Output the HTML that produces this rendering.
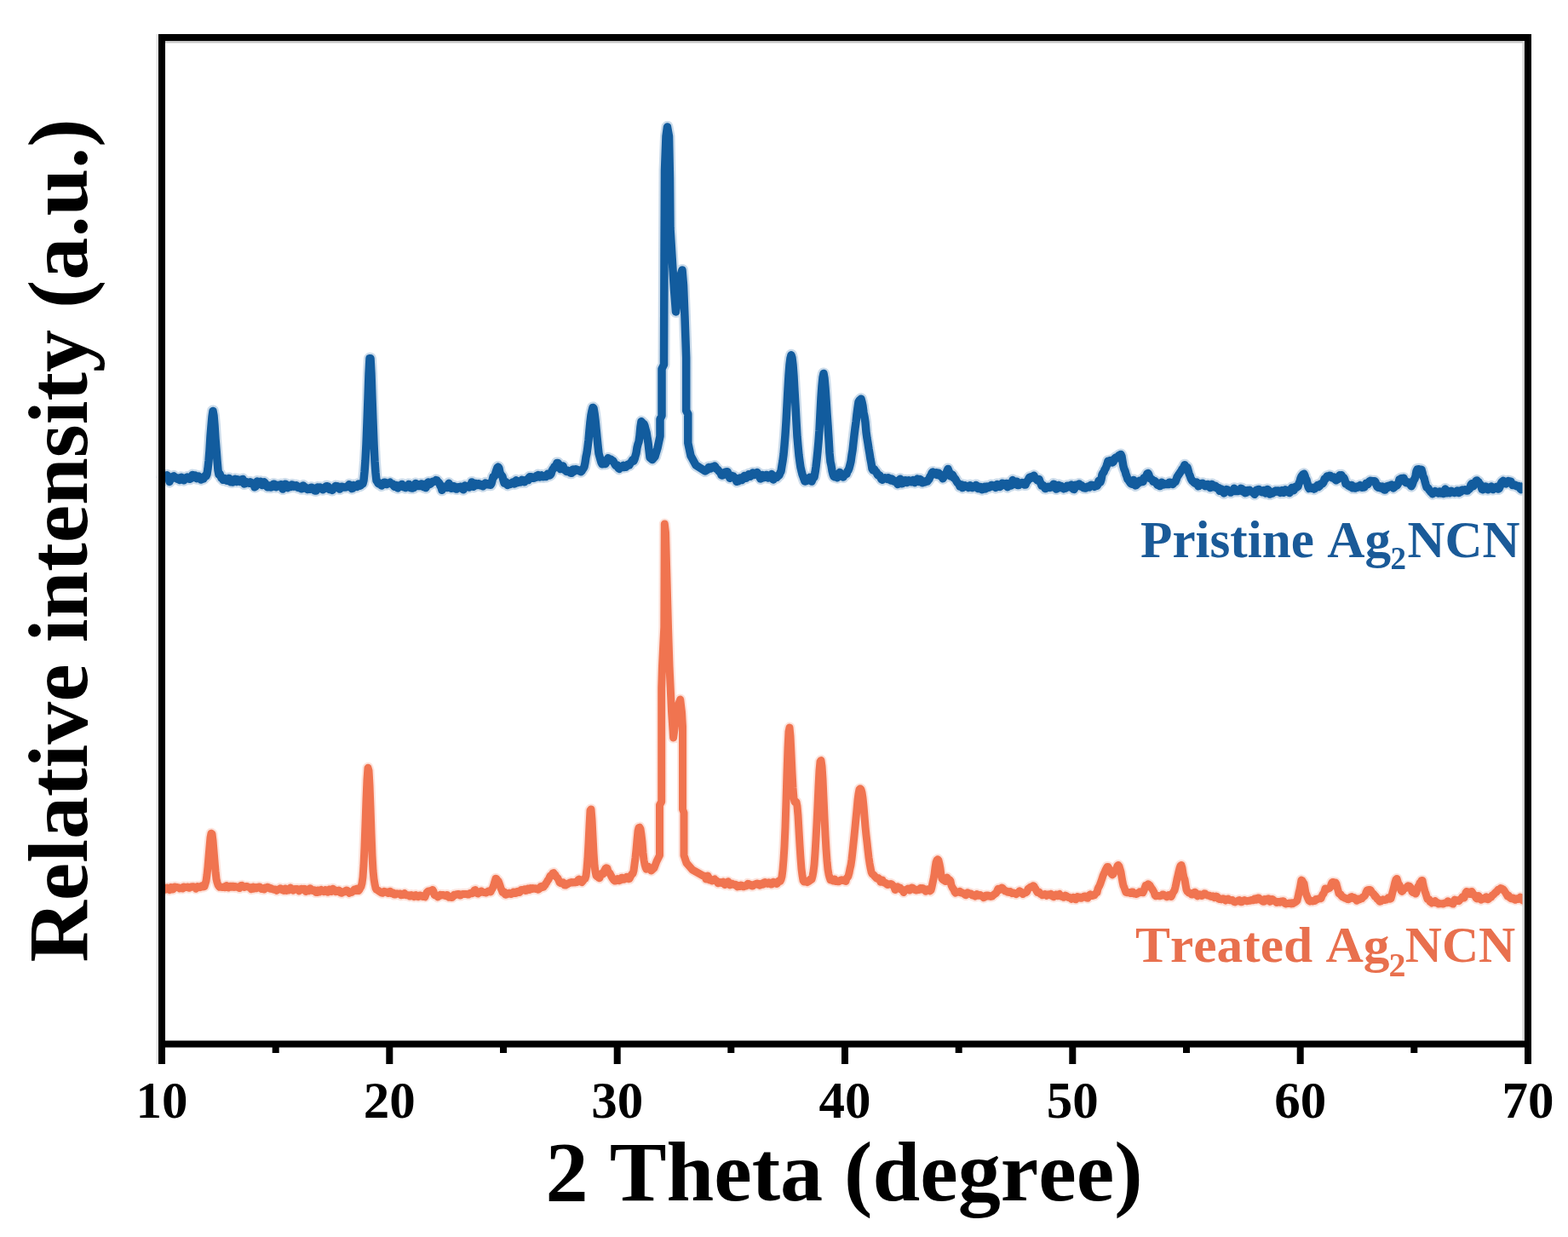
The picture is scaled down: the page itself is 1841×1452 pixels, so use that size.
<!DOCTYPE html>
<html><head><meta charset="utf-8"><title>XRD</title>
<style>
html,body{margin:0;padding:0;background:#fff;}
body{width:1841px;height:1452px;overflow:hidden;}
svg{display:block;}
text{font-family:"Liberation Serif","Times New Roman",serif;font-weight:bold;font-kerning:none;}
.tk{font-size:61px;fill:#000;}
.ax{font-size:100px;fill:#000;}

</style></head>
<body>
<svg width="1841" height="1452" viewBox="0 0 1841 1452">
<rect x="0" y="0" width="1841" height="1452" fill="#fff"/>
<polyline points="190.0,562.7 191.0,558.5 192.0,560.1 193.0,560.1 194.0,559.9 195.0,559.5 196.0,557.8 197.0,559.2 198.0,561.2 199.0,565.4 200.0,562.7 201.0,560.4 202.0,560.1 203.0,559.3 204.0,558.9 205.0,560.1 206.0,561.3 207.0,561.3 208.0,562.1 209.0,561.1 210.0,561.6 211.0,563.4 212.0,562.2 213.0,560.4 214.0,560.7 215.0,562.5 216.0,563.8 217.0,561.3 218.0,560.9 219.0,561.8 220.0,560.0 221.0,560.5 222.0,562.3 223.0,562.2 224.0,561.6 225.0,560.5 226.0,557.6 227.0,560.5 228.0,559.1 229.0,558.1 230.0,560.7 231.0,561.7 232.0,559.9 233.0,558.9 234.0,560.1 235.0,561.2 236.0,562.9 237.0,562.4 238.0,561.6 239.0,561.9 240.0,559.9 241.0,558.3 242.0,558.8 243.0,556.5 244.0,550.0 245.0,540.9 246.0,528.8 247.0,512.3 248.0,500.5 249.0,489.2 250.0,482.5 251.0,487.9 252.0,499.7 253.0,515.3 254.0,527.4 255.0,540.5 256.0,552.0 257.0,557.0 258.0,556.1 259.0,558.8 260.0,561.1 261.0,561.6 262.0,563.3 263.0,561.3 264.0,561.8 265.0,561.9 266.0,564.2 267.0,563.3 268.0,561.7 269.0,561.4 270.0,565.3 271.0,565.8 272.0,565.7 273.0,566.0 274.0,564.7 275.0,563.0 276.0,562.4 277.0,563.5 278.0,565.4 279.0,562.9 280.0,563.1 281.0,564.3 282.0,565.5 283.0,565.6 284.0,563.0 285.0,562.4 286.0,565.4 287.0,567.9 288.0,567.7 289.0,566.5 290.0,565.9 291.0,566.4 292.0,566.5 293.0,567.1 294.0,565.9 295.0,566.4 296.0,566.9 297.0,567.7 298.0,568.8 299.0,571.6 300.0,571.3 301.0,569.2 302.0,565.0 303.0,565.7 304.0,566.8 305.0,567.1 306.0,565.3 307.0,569.0 308.0,569.5 309.0,566.3 310.0,565.8 311.0,566.7 312.0,568.4 313.0,570.4 314.0,571.8 315.0,569.8 316.0,569.9 317.0,570.4 318.0,572.0 319.0,571.7 320.0,571.0 321.0,568.3 322.0,568.2 323.0,569.0 324.0,571.7 325.0,571.3 326.0,569.5 327.0,569.4 328.0,570.2 329.0,568.9 330.0,568.8 331.0,571.8 332.0,574.1 333.0,571.1 334.0,569.2 335.0,568.2 336.0,568.6 337.0,571.5 338.0,572.5 339.0,571.6 340.0,571.6 341.0,571.5 342.0,570.7 343.0,568.9 344.0,569.9 345.0,570.9 346.0,570.0 347.0,569.9 348.0,569.8 349.0,571.0 350.0,572.4 351.0,571.3 352.0,571.6 353.0,573.0 354.0,573.8 355.0,573.5 356.0,570.0 357.0,571.8 358.0,571.6 359.0,572.2 360.0,573.7 361.0,574.4 362.0,574.1 363.0,573.5 364.0,574.3 365.0,572.4 366.0,572.2 367.0,573.0 368.0,572.9 369.0,575.6 370.0,575.9 371.0,576.0 372.0,573.2 373.0,572.0 374.0,572.9 375.0,573.4 376.0,572.2 377.0,572.9 378.0,573.6 379.0,574.7 380.0,573.0 381.0,573.6 382.0,571.9 383.0,570.8 384.0,570.8 385.0,570.9 386.0,573.0 387.0,574.5 388.0,573.8 389.0,574.5 390.0,575.5 391.0,574.0 392.0,573.0 393.0,571.6 394.0,570.5 395.0,572.1 396.0,570.7 397.0,572.6 398.0,573.3 399.0,574.0 400.0,572.5 401.0,571.3 402.0,572.2 403.0,571.6 404.0,571.8 405.0,572.1 406.0,571.9 407.0,571.4 408.0,570.7 409.0,570.3 410.0,568.7 411.0,570.1 412.0,570.6 413.0,573.5 414.0,573.2 415.0,569.6 416.0,570.8 417.0,570.9 418.0,570.1 419.0,571.4 420.0,569.9 421.0,568.1 422.0,569.4 423.0,570.1 424.0,569.3 425.0,567.4 426.0,567.5 427.0,563.7 428.0,553.7 429.0,540.7 430.0,521.5 431.0,495.7 432.0,468.2 433.0,439.5 434.0,420.8 435.0,420.7 436.0,439.1 437.0,468.4 438.0,495.7 439.0,521.4 440.0,541.6 441.0,554.9 442.0,564.0 443.0,565.4 444.0,567.3 445.0,568.1 446.0,568.1 447.0,567.4 448.0,570.0 449.0,568.9 450.0,567.6 451.0,566.2 452.0,566.2 453.0,567.9 454.0,568.4 455.0,567.9 456.0,567.8 457.0,566.9 458.0,566.3 459.0,567.6 460.0,568.0 461.0,568.1 462.0,569.9 463.0,571.2 464.0,570.1 465.0,569.6 466.0,571.6 467.0,572.9 468.0,570.6 469.0,569.8 470.0,570.5 471.0,571.0 472.0,568.4 473.0,570.6 474.0,571.9 475.0,570.6 476.0,572.5 477.0,571.8 478.0,570.2 479.0,570.0 480.0,568.4 481.0,570.1 482.0,572.8 483.0,571.4 484.0,573.1 485.0,572.2 486.0,572.4 487.0,570.4 488.0,567.5 489.0,569.2 490.0,570.5 491.0,568.8 492.0,568.7 493.0,570.6 494.0,569.5 495.0,567.9 496.0,569.5 497.0,571.5 498.0,570.8 499.0,572.2 500.0,572.6 501.0,569.7 502.0,566.7 503.0,565.9 504.0,567.4 505.0,568.3 506.0,567.4 507.0,566.5 508.0,565.3 509.0,565.4 510.0,564.8 511.0,564.6 512.0,563.6 513.0,564.0 514.0,565.8 515.0,566.2 516.0,567.6 517.0,570.3 518.0,571.9 519.0,575.3 520.0,573.5 521.0,571.2 522.0,572.4 523.0,572.1 524.0,571.3 525.0,572.5 526.0,569.6 527.0,567.3 528.0,571.1 529.0,572.0 530.0,573.3 531.0,571.0 532.0,570.6 533.0,573.0 534.0,571.1 535.0,572.3 536.0,574.1 537.0,572.7 538.0,571.9 539.0,572.5 540.0,572.7 541.0,571.2 542.0,572.3 543.0,573.7 544.0,574.8 545.0,571.4 546.0,569.9 547.0,571.4 548.0,570.7 549.0,571.0 550.0,571.4 551.0,571.9 552.0,569.9 553.0,568.5 554.0,565.9 555.0,568.2 556.0,571.3 557.0,569.1 558.0,567.6 559.0,567.6 560.0,569.6 561.0,569.1 562.0,567.7 563.0,569.4 564.0,569.8 565.0,569.5 566.0,568.8 567.0,570.8 568.0,569.6 569.0,567.9 570.0,567.0 571.0,567.6 572.0,568.7 573.0,568.1 574.0,569.1 575.0,569.1 576.0,569.2 577.0,567.6 578.0,563.8 579.0,559.8 580.0,559.8 581.0,558.2 582.0,554.5 583.0,551.6 584.0,548.8 585.0,548.1 586.0,549.9 587.0,554.9 588.0,557.0 589.0,558.0 590.0,559.6 591.0,563.5 592.0,567.1 593.0,566.6 594.0,565.8 595.0,568.5 596.0,569.4 597.0,568.7 598.0,568.3 599.0,568.4 600.0,567.8 601.0,567.0 602.0,565.9 603.0,567.8 604.0,567.9 605.0,567.7 606.0,563.8 607.0,565.8 608.0,566.6 609.0,565.0 610.0,565.5 611.0,566.0 612.0,565.1 613.0,563.4 614.0,563.8 615.0,565.6 616.0,565.8 617.0,564.0 618.0,563.2 619.0,563.6 620.0,563.6 621.0,560.7 622.0,559.8 623.0,560.9 624.0,559.9 625.0,560.2 626.0,561.3 627.0,561.3 628.0,559.9 629.0,560.5 630.0,558.6 631.0,559.6 632.0,557.6 633.0,557.8 634.0,560.0 635.0,559.1 636.0,558.0 637.0,558.6 638.0,559.7 639.0,559.1 640.0,559.2 641.0,559.6 642.0,557.3 643.0,556.3 644.0,556.5 645.0,558.0 646.0,557.6 647.0,556.1 648.0,552.8 649.0,550.9 650.0,550.0 651.0,547.7 652.0,547.3 653.0,546.0 654.0,543.4 655.0,543.4 656.0,544.9 657.0,548.7 658.0,550.6 659.0,548.5 660.0,547.6 661.0,546.9 662.0,550.4 663.0,551.8 664.0,551.8 665.0,553.4 666.0,552.0 667.0,553.2 668.0,553.8 669.0,553.0 670.0,555.3 671.0,555.2 672.0,551.5 673.0,551.0 674.0,553.3 675.0,552.5 676.0,550.7 677.0,551.2 678.0,551.6 679.0,551.7 680.0,552.6 681.0,552.6 682.0,553.7 683.0,552.8 684.0,550.8 685.0,549.8 686.0,547.9 687.0,543.1 688.0,536.4 689.0,531.9 690.0,524.7 691.0,516.5 692.0,505.2 693.0,495.0 694.0,487.1 695.0,482.3 696.0,478.4 697.0,479.3 698.0,485.2 699.0,493.0 700.0,503.1 701.0,513.1 702.0,523.3 703.0,532.3 704.0,535.9 705.0,539.6 706.0,542.8 707.0,544.7 708.0,543.5 709.0,543.7 710.0,544.5 711.0,544.4 712.0,542.1 713.0,539.3 714.0,537.7 715.0,538.8 716.0,539.9 717.0,539.1 718.0,539.7 719.0,541.0 720.0,541.2 721.0,543.1 722.0,545.1 723.0,546.6 724.0,546.5 725.0,546.0 726.0,549.3 727.0,550.4 728.0,548.2 729.0,548.1 730.0,548.5 731.0,548.1 732.0,546.3 733.0,548.4 734.0,547.5 735.0,548.1 736.0,546.8 737.0,545.3 738.0,545.6 739.0,545.9 740.0,543.6 741.0,542.7 742.0,541.2 743.0,539.5 744.0,541.2 745.0,538.9 746.0,535.3 747.0,531.9 748.0,525.4 749.0,521.4 750.0,518.7 751.0,511.5 752.0,501.0 753.0,494.8 754.0,495.8 755.0,498.1 756.0,497.6 757.0,500.0 758.0,504.2 759.0,507.6 760.0,513.7 761.0,519.8 763.0,537.0 766.0,539.5 769.0,536.0 772.0,526.0 775.0,512.0 775.0,492.0 777.0,488.0 777.0,433.0 779.5,428.0 780.0,300.0 780.5,200.0 782.0,160.0 783.5,149.0 785.5,160.0 786.5,210.0 787.0,268.0 789.5,309.0 791.5,340.0 793.5,366.0 796.0,347.0 798.5,325.0 801.0,317.0 802.5,335.0 804.0,372.0 805.7,420.0 805.7,482.0 807.8,486.0 807.8,520.0 811.0,535.0 817.0,546.0 828.0,553.0 830.0,551.8 831.0,551.0 832.0,548.5 833.0,548.4 834.0,550.1 835.0,549.1 836.0,548.0 837.0,547.7 838.0,548.2 839.0,547.1 840.0,548.1 841.0,550.3 842.0,550.7 843.0,551.6 844.0,553.1 845.0,553.7 846.0,554.9 847.0,557.6 848.0,558.0 849.0,557.7 850.0,556.1 851.0,554.7 852.0,554.0 853.0,554.6 854.0,553.7 855.0,556.0 856.0,559.4 857.0,561.3 858.0,560.2 859.0,558.3 860.0,559.0 861.0,558.9 862.0,560.5 863.0,560.8 864.0,562.9 865.0,565.3 866.0,564.4 867.0,564.6 868.0,562.0 869.0,561.0 870.0,563.3 871.0,563.6 872.0,560.7 873.0,559.8 874.0,558.4 875.0,559.8 876.0,561.3 877.0,559.9 878.0,557.9 879.0,556.7 880.0,558.4 881.0,559.1 882.0,558.1 883.0,556.2 884.0,554.9 885.0,557.5 886.0,556.4 887.0,556.2 888.0,556.6 889.0,554.5 890.0,556.8 891.0,558.6 892.0,560.3 893.0,562.0 894.0,560.4 895.0,557.5 896.0,558.9 897.0,560.5 898.0,560.0 899.0,557.7 900.0,557.5 901.0,560.4 902.0,560.9 903.0,559.4 904.0,558.4 905.0,560.4 906.0,556.6 907.0,559.3 908.0,563.0 909.0,561.1 910.0,559.9 911.0,559.1 912.0,560.6 913.0,558.4 914.0,558.6 915.0,557.5 916.0,554.9 917.0,553.1 918.0,546.8 919.0,540.9 920.0,533.5 921.0,522.7 922.0,510.4 923.0,495.0 924.0,476.0 925.0,457.4 926.0,440.9 927.0,428.1 928.0,420.4 929.0,416.8 930.0,420.2 931.0,428.6 932.0,441.8 933.0,459.7 934.0,476.2 935.0,495.1 936.0,512.5 937.0,523.8 938.0,534.5 939.0,542.0 940.0,548.7 941.0,552.8 942.0,556.9 943.0,559.5 944.0,562.4 945.0,565.0 946.0,564.6 947.0,564.5 948.0,563.6 949.0,562.7 950.0,561.2 951.0,560.2 952.0,562.9 953.0,565.1 954.0,562.9 955.0,560.7 956.0,560.2 957.0,554.7 958.0,547.9 959.0,539.4 960.0,529.5 961.0,518.4 962.0,505.3 963.0,485.8 964.0,466.9 965.0,452.9 966.0,443.1 967.0,438.5 968.0,444.1 969.0,455.3 970.0,469.4 971.0,485.3 972.0,499.4 973.0,514.8 974.0,531.9 975.0,542.0 976.0,546.4 977.0,552.6 978.0,556.7 979.0,559.2 980.0,559.7 981.0,559.4 982.0,560.3 983.0,560.6 984.0,559.4 985.0,556.1 986.0,554.5 987.0,556.5 988.0,556.9 989.0,559.1 990.0,560.0 991.0,558.6 992.0,556.9 993.0,556.8 994.0,556.3 995.0,553.1 996.0,552.2 997.0,549.5 998.0,545.7 999.0,541.6 1000.0,534.4 1001.0,528.5 1002.0,519.5 1003.0,510.7 1004.0,502.6 1005.0,495.3 1006.0,486.1 1007.0,478.6 1008.0,471.9 1009.0,470.2 1010.0,469.2 1011.0,468.3 1012.0,471.9 1013.0,476.8 1014.0,484.4 1015.0,489.2 1016.0,495.8 1017.0,507.2 1018.0,514.3 1019.0,520.2 1020.0,526.8 1021.0,532.5 1022.0,538.9 1023.0,543.9 1024.0,550.2 1025.0,551.9 1026.0,550.4 1027.0,551.6 1028.0,553.7 1029.0,554.0 1030.0,556.7 1031.0,557.9 1032.0,557.5 1033.0,558.3 1034.0,560.7 1035.0,562.8 1036.0,563.1 1037.0,561.9 1038.0,562.0 1039.0,561.0 1040.0,561.6 1041.0,561.3 1042.0,562.5 1043.0,560.9 1044.0,561.2 1045.0,563.3 1046.0,563.9 1047.0,562.1 1048.0,563.0 1049.0,564.8 1050.0,565.0 1051.0,564.3 1052.0,565.3 1053.0,566.3 1054.0,568.4 1055.0,567.0 1056.0,563.4 1057.0,562.3 1058.0,565.7 1059.0,567.8 1060.0,567.1 1061.0,566.9 1062.0,564.8 1063.0,563.8 1064.0,566.1 1065.0,566.4 1066.0,565.8 1067.0,563.8 1068.0,564.6 1069.0,564.8 1070.0,565.8 1071.0,564.4 1072.0,563.6 1073.0,564.4 1074.0,566.4 1075.0,565.1 1076.0,563.1 1077.0,562.3 1078.0,563.4 1079.0,565.5 1080.0,562.5 1081.0,563.1 1082.0,565.9 1083.0,566.7 1084.0,565.4 1085.0,565.8 1086.0,566.0 1087.0,565.4 1088.0,564.4 1089.0,564.8 1090.0,563.3 1091.0,562.3 1092.0,559.1 1093.0,558.7 1094.0,555.4 1095.0,554.1 1096.0,555.6 1097.0,554.8 1098.0,555.1 1099.0,554.9 1100.0,557.5 1101.0,556.4 1102.0,555.2 1103.0,557.4 1104.0,558.7 1105.0,557.6 1106.0,559.5 1107.0,561.7 1108.0,560.0 1109.0,557.4 1110.0,556.3 1111.0,556.2 1112.0,552.6 1113.0,550.4 1114.0,553.0 1115.0,555.2 1116.0,559.0 1117.0,558.4 1118.0,557.0 1119.0,558.3 1120.0,561.3 1121.0,561.6 1122.0,562.8 1123.0,564.8 1124.0,566.3 1125.0,567.3 1126.0,568.6 1127.0,571.1 1128.0,571.1 1129.0,568.9 1130.0,572.5 1131.0,571.8 1132.0,571.5 1133.0,569.8 1134.0,570.5 1135.0,570.9 1136.0,571.2 1137.0,572.3 1138.0,571.6 1139.0,569.7 1140.0,570.7 1141.0,572.5 1142.0,572.4 1143.0,571.1 1144.0,570.9 1145.0,570.7 1146.0,569.4 1147.0,570.2 1148.0,573.4 1149.0,572.3 1150.0,571.6 1151.0,571.5 1152.0,574.1 1153.0,574.7 1154.0,572.3 1155.0,571.7 1156.0,571.4 1157.0,573.9 1158.0,572.9 1159.0,570.9 1160.0,572.5 1161.0,572.2 1162.0,571.7 1163.0,571.0 1164.0,569.5 1165.0,569.7 1166.0,571.0 1167.0,570.0 1168.0,569.7 1169.0,572.4 1170.0,570.3 1171.0,568.6 1172.0,568.8 1173.0,570.8 1174.0,571.4 1175.0,570.7 1176.0,570.0 1177.0,567.3 1178.0,567.6 1179.0,568.2 1180.0,568.9 1181.0,568.5 1182.0,567.5 1183.0,571.7 1184.0,568.9 1185.0,568.9 1186.0,570.0 1187.0,569.9 1188.0,567.4 1189.0,563.6 1190.0,565.6 1191.0,568.4 1192.0,566.9 1193.0,565.4 1194.0,565.2 1195.0,569.5 1196.0,569.5 1197.0,567.6 1198.0,568.0 1199.0,567.9 1200.0,566.8 1201.0,567.6 1202.0,568.6 1203.0,569.1 1204.0,569.1 1205.0,566.6 1206.0,564.7 1207.0,564.1 1208.0,561.5 1209.0,560.1 1210.0,561.4 1211.0,559.7 1212.0,559.4 1213.0,559.5 1214.0,558.3 1215.0,560.6 1216.0,561.9 1217.0,562.5 1218.0,563.8 1219.0,563.0 1220.0,562.6 1221.0,565.6 1222.0,567.4 1223.0,570.2 1224.0,570.4 1225.0,569.7 1226.0,571.1 1227.0,573.4 1228.0,573.5 1229.0,572.5 1230.0,572.0 1231.0,571.2 1232.0,571.5 1233.0,572.4 1234.0,572.0 1235.0,571.6 1236.0,569.6 1237.0,568.2 1238.0,568.5 1239.0,571.1 1240.0,574.1 1241.0,573.7 1242.0,570.2 1243.0,569.5 1244.0,572.4 1245.0,572.1 1246.0,570.5 1247.0,572.6 1248.0,573.0 1249.0,573.8 1250.0,573.2 1251.0,573.2 1252.0,572.0 1253.0,570.2 1254.0,570.4 1255.0,570.8 1256.0,571.8 1257.0,569.6 1258.0,569.0 1259.0,572.1 1260.0,574.0 1261.0,574.4 1262.0,572.8 1263.0,569.2 1264.0,569.2 1265.0,570.0 1266.0,569.8 1267.0,568.0 1268.0,570.1 1269.0,571.0 1270.0,569.8 1271.0,571.2 1272.0,572.7 1273.0,572.0 1274.0,572.9 1275.0,573.0 1276.0,572.0 1277.0,571.2 1278.0,570.8 1279.0,571.9 1280.0,570.0 1281.0,569.4 1282.0,570.5 1283.0,569.5 1284.0,570.6 1285.0,571.4 1286.0,570.1 1287.0,569.6 1288.0,570.3 1289.0,568.6 1290.0,564.5 1291.0,563.8 1292.0,565.9 1293.0,562.8 1294.0,557.1 1295.0,555.2 1296.0,554.3 1297.0,551.4 1298.0,549.9 1299.0,547.5 1300.0,544.6 1301.0,541.2 1302.0,542.2 1303.0,542.9 1304.0,540.4 1305.0,542.2 1306.0,542.9 1307.0,542.3 1308.0,540.4 1309.0,537.9 1310.0,537.2 1311.0,537.9 1312.0,537.0 1313.0,535.6 1314.0,534.4 1315.0,533.9 1316.0,533.5 1317.0,535.7 1318.0,541.7 1319.0,547.4 1320.0,550.8 1321.0,553.0 1322.0,556.7 1323.0,559.3 1324.0,562.6 1325.0,563.4 1326.0,565.2 1327.0,566.7 1328.0,567.6 1329.0,568.2 1330.0,564.8 1331.0,563.5 1332.0,567.7 1333.0,569.9 1334.0,569.5 1335.0,568.0 1336.0,567.6 1337.0,566.4 1338.0,564.3 1339.0,564.8 1340.0,565.7 1341.0,565.1 1342.0,565.5 1343.0,561.1 1344.0,560.6 1345.0,561.3 1346.0,558.3 1347.0,556.0 1348.0,555.5 1349.0,557.7 1350.0,561.4 1351.0,562.0 1352.0,562.4 1353.0,563.0 1354.0,565.3 1355.0,565.4 1356.0,564.7 1357.0,565.8 1358.0,567.8 1359.0,569.2 1360.0,568.4 1361.0,569.4 1362.0,570.6 1363.0,567.1 1364.0,566.2 1365.0,569.0 1366.0,569.0 1367.0,568.2 1368.0,568.1 1369.0,567.9 1370.0,568.4 1371.0,568.1 1372.0,568.4 1373.0,566.3 1374.0,566.2 1375.0,567.4 1376.0,567.4 1377.0,568.2 1378.0,567.1 1379.0,565.8 1380.0,565.5 1381.0,563.2 1382.0,560.1 1383.0,558.5 1384.0,557.1 1385.0,555.5 1386.0,554.1 1387.0,552.6 1388.0,550.6 1389.0,549.9 1390.0,547.7 1391.0,545.8 1392.0,548.0 1393.0,548.8 1394.0,548.7 1395.0,552.0 1396.0,555.8 1397.0,558.1 1398.0,561.1 1399.0,563.1 1400.0,564.6 1401.0,565.1 1402.0,566.5 1403.0,567.1 1404.0,567.7 1405.0,566.1 1406.0,568.6 1407.0,570.8 1408.0,570.1 1409.0,569.3 1410.0,569.2 1411.0,567.5 1412.0,567.3 1413.0,568.4 1414.0,569.7 1415.0,570.7 1416.0,569.7 1417.0,570.6 1418.0,568.4 1419.0,568.9 1420.0,571.1 1421.0,572.6 1422.0,570.1 1423.0,568.5 1424.0,571.5 1425.0,571.8 1426.0,570.3 1427.0,570.3 1428.0,571.4 1429.0,573.2 1430.0,573.6 1431.0,572.8 1432.0,576.3 1433.0,574.9 1434.0,574.0 1435.0,575.3 1436.0,576.3 1437.0,578.9 1438.0,577.7 1439.0,575.2 1440.0,574.6 1441.0,574.8 1442.0,575.6 1443.0,576.6 1444.0,576.3 1445.0,578.1 1446.0,576.7 1447.0,576.4 1448.0,576.5 1449.0,573.3 1450.0,574.2 1451.0,576.6 1452.0,576.5 1453.0,576.4 1454.0,576.5 1455.0,575.5 1456.0,575.1 1457.0,573.4 1458.0,573.6 1459.0,576.8 1460.0,575.3 1461.0,575.6 1462.0,578.6 1463.0,578.4 1464.0,575.9 1465.0,575.4 1466.0,575.7 1467.0,575.3 1468.0,576.9 1469.0,577.1 1470.0,577.2 1471.0,578.1 1472.0,578.9 1473.0,580.3 1474.0,578.9 1475.0,575.3 1476.0,576.6 1477.0,574.8 1478.0,574.4 1479.0,576.7 1480.0,575.9 1481.0,576.5 1482.0,577.8 1483.0,575.9 1484.0,575.4 1485.0,577.4 1486.0,579.0 1487.0,577.5 1488.0,574.6 1489.0,575.1 1490.0,577.3 1491.0,580.1 1492.0,579.6 1493.0,579.2 1494.0,579.0 1495.0,577.4 1496.0,577.8 1497.0,577.5 1498.0,575.9 1499.0,576.8 1500.0,577.2 1501.0,575.9 1502.0,577.6 1503.0,578.4 1504.0,577.8 1505.0,575.6 1506.0,576.4 1507.0,578.3 1508.0,577.1 1509.0,574.8 1510.0,576.0 1511.0,577.3 1512.0,575.8 1513.0,576.6 1514.0,578.6 1515.0,575.7 1516.0,573.7 1517.0,572.4 1518.0,573.3 1519.0,575.7 1520.0,573.7 1521.0,571.3 1522.0,571.0 1523.0,571.8 1524.0,570.9 1525.0,567.5 1526.0,565.4 1527.0,561.6 1528.0,559.3 1529.0,557.9 1530.0,556.8 1531.0,556.2 1532.0,558.5 1533.0,561.7 1534.0,563.3 1535.0,567.6 1536.0,571.3 1537.0,573.3 1538.0,573.0 1539.0,572.9 1540.0,573.2 1541.0,572.4 1542.0,573.0 1543.0,574.0 1544.0,573.4 1545.0,571.5 1546.0,570.7 1547.0,569.5 1548.0,571.6 1549.0,570.8 1550.0,569.7 1551.0,567.6 1552.0,567.4 1553.0,567.6 1554.0,566.0 1555.0,562.5 1556.0,562.7 1557.0,560.9 1558.0,559.2 1559.0,559.7 1560.0,558.9 1561.0,558.3 1562.0,558.5 1563.0,560.1 1564.0,560.9 1565.0,560.7 1566.0,560.2 1567.0,561.2 1568.0,563.1 1569.0,563.8 1570.0,562.4 1571.0,562.4 1572.0,559.7 1573.0,557.7 1574.0,558.5 1575.0,557.7 1576.0,559.7 1577.0,561.5 1578.0,561.2 1579.0,563.6 1580.0,568.0 1581.0,567.7 1582.0,568.5 1583.0,570.2 1584.0,570.3 1585.0,571.0 1586.0,571.0 1587.0,569.5 1588.0,572.8 1589.0,571.3 1590.0,571.0 1591.0,573.1 1592.0,572.6 1593.0,571.2 1594.0,572.0 1595.0,570.9 1596.0,570.5 1597.0,569.7 1598.0,570.7 1599.0,572.3 1600.0,572.1 1601.0,572.0 1602.0,571.8 1603.0,569.5 1604.0,567.3 1605.0,567.5 1606.0,568.6 1607.0,566.4 1608.0,565.0 1609.0,564.3 1610.0,564.5 1611.0,564.9 1612.0,564.7 1613.0,564.8 1614.0,564.7 1615.0,566.0 1616.0,569.0 1617.0,571.2 1618.0,572.0 1619.0,571.2 1620.0,570.8 1621.0,572.9 1622.0,572.8 1623.0,571.1 1624.0,573.4 1625.0,574.8 1626.0,575.0 1627.0,571.4 1628.0,570.9 1629.0,572.6 1630.0,570.3 1631.0,570.4 1632.0,570.4 1633.0,569.7 1634.0,569.0 1635.0,571.1 1636.0,572.9 1637.0,572.1 1638.0,570.6 1639.0,569.4 1640.0,570.1 1641.0,568.7 1642.0,566.6 1643.0,563.0 1644.0,562.9 1645.0,561.6 1646.0,562.6 1647.0,562.4 1648.0,561.2 1649.0,563.5 1650.0,566.0 1651.0,566.6 1652.0,566.8 1653.0,565.9 1654.0,566.1 1655.0,566.8 1656.0,569.2 1657.0,570.7 1658.0,569.1 1659.0,566.2 1660.0,563.3 1661.0,562.3 1662.0,558.7 1663.0,553.4 1664.0,551.0 1665.0,550.9 1666.0,550.7 1667.0,553.0 1668.0,551.9 1669.0,551.3 1670.0,554.8 1671.0,559.6 1672.0,560.8 1673.0,564.9 1674.0,568.6 1675.0,571.9 1676.0,572.8 1677.0,573.1 1678.0,575.1 1679.0,576.2 1680.0,577.5 1681.0,577.9 1682.0,579.7 1683.0,578.1 1684.0,577.6 1685.0,576.7 1686.0,577.4 1687.0,577.8 1688.0,578.4 1689.0,578.9 1690.0,577.1 1691.0,577.0 1692.0,579.1 1693.0,577.7 1694.0,577.3 1695.0,579.5 1696.0,578.1 1697.0,574.0 1698.0,576.1 1699.0,578.7 1700.0,578.6 1701.0,577.6 1702.0,578.7 1703.0,576.5 1704.0,576.3 1705.0,576.9 1706.0,577.2 1707.0,578.3 1708.0,578.4 1709.0,577.6 1710.0,578.1 1711.0,575.9 1712.0,576.4 1713.0,578.5 1714.0,577.5 1715.0,577.3 1716.0,575.6 1717.0,575.1 1718.0,575.4 1719.0,575.4 1720.0,574.8 1721.0,575.1 1722.0,576.1 1723.0,576.1 1724.0,574.5 1725.0,574.1 1726.0,572.9 1727.0,569.0 1728.0,567.8 1729.0,570.9 1730.0,570.5 1731.0,567.9 1732.0,566.6 1733.0,564.4 1734.0,564.0 1735.0,565.7 1736.0,565.7 1737.0,568.2 1738.0,568.4 1739.0,570.7 1740.0,574.3 1741.0,574.6 1742.0,572.7 1743.0,573.0 1744.0,571.1 1745.0,571.4 1746.0,573.6 1747.0,574.7 1748.0,573.0 1749.0,573.4 1750.0,572.7 1751.0,571.0 1752.0,572.6 1753.0,574.6 1754.0,573.2 1755.0,573.3 1756.0,573.0 1757.0,571.5 1758.0,573.2 1759.0,574.0 1760.0,573.5 1761.0,571.6 1762.0,568.2 1763.0,566.3 1764.0,565.2 1765.0,564.4 1766.0,564.9 1767.0,567.4 1768.0,567.8 1769.0,565.8 1770.0,566.1 1771.0,564.7 1772.0,565.3 1773.0,565.1 1774.0,565.4 1775.0,568.2 1776.0,569.5 1777.0,569.3 1778.0,569.2 1779.0,569.3 1780.0,570.4 1781.0,570.8 1782.0,571.2 1783.0,570.4 1784.0,572.0 1785.0,573.5 1786.0,574.6 1787.0,574.2 1788.0,572.5 1789.0,570.3 1790.0,569.0" fill="none" stroke="#125c9e" stroke-opacity="0.22" stroke-width="14" stroke-linejoin="round" stroke-linecap="butt"/>
<polyline points="190.0,1041.8 191.0,1041.3 192.0,1042.4 193.0,1043.6 194.0,1044.2 195.0,1043.2 196.0,1042.1 197.0,1042.2 198.0,1043.8 199.0,1044.7 200.0,1043.2 201.0,1041.4 202.0,1042.0 203.0,1044.0 204.0,1042.9 205.0,1041.1 206.0,1041.7 207.0,1041.3 208.0,1041.5 209.0,1041.8 210.0,1042.0 211.0,1042.9 212.0,1042.5 213.0,1042.1 214.0,1043.0 215.0,1042.9 216.0,1041.1 217.0,1041.4 218.0,1041.4 219.0,1041.6 220.0,1041.1 221.0,1042.0 222.0,1042.3 223.0,1041.7 224.0,1041.1 225.0,1041.2 226.0,1040.7 227.0,1040.7 228.0,1041.6 229.0,1041.6 230.0,1043.1 231.0,1042.5 232.0,1040.5 233.0,1041.3 234.0,1041.0 235.0,1041.6 236.0,1041.2 237.0,1039.7 238.0,1040.5 239.0,1040.9 240.0,1040.5 241.0,1037.4 242.0,1034.2 243.0,1026.9 244.0,1017.4 245.0,1005.6 246.0,994.1 247.0,983.2 248.0,978.2 249.0,978.7 250.0,986.7 251.0,998.8 252.0,1010.8 253.0,1022.5 254.0,1031.7 255.0,1035.9 256.0,1038.8 257.0,1040.4 258.0,1041.3 259.0,1041.0 260.0,1041.2 261.0,1041.6 262.0,1041.4 263.0,1041.0 264.0,1041.7 265.0,1040.2 266.0,1039.6 267.0,1040.3 268.0,1042.0 269.0,1041.2 270.0,1040.2 271.0,1040.3 272.0,1041.3 273.0,1040.3 274.0,1040.2 275.0,1041.4 276.0,1040.5 277.0,1040.9 278.0,1041.3 279.0,1041.1 280.0,1041.8 281.0,1042.6 282.0,1041.0 283.0,1039.5 284.0,1039.3 285.0,1040.6 286.0,1041.1 287.0,1041.4 288.0,1040.9 289.0,1040.6 290.0,1040.5 291.0,1040.9 292.0,1041.5 293.0,1041.4 294.0,1042.3 295.0,1043.8 296.0,1042.4 297.0,1041.1 298.0,1043.2 299.0,1042.6 300.0,1041.5 301.0,1042.7 302.0,1042.2 303.0,1041.4 304.0,1041.1 305.0,1041.1 306.0,1042.4 307.0,1043.3 308.0,1042.6 309.0,1043.4 310.0,1044.1 311.0,1042.1 312.0,1042.4 313.0,1042.1 314.0,1041.3 315.0,1041.4 316.0,1042.6 317.0,1043.1 318.0,1042.5 319.0,1043.1 320.0,1043.8 321.0,1043.8 322.0,1044.2 323.0,1044.0 324.0,1044.4 325.0,1045.3 326.0,1044.5 327.0,1043.9 328.0,1043.8 329.0,1042.7 330.0,1043.1 331.0,1044.4 332.0,1044.9 333.0,1045.3 334.0,1043.7 335.0,1042.9 336.0,1045.5 337.0,1045.1 338.0,1043.6 339.0,1044.9 340.0,1043.8 341.0,1042.1 342.0,1042.9 343.0,1044.0 344.0,1045.2 345.0,1043.8 346.0,1043.6 347.0,1043.8 348.0,1043.6 349.0,1043.4 350.0,1044.7 351.0,1045.8 352.0,1045.2 353.0,1043.5 354.0,1043.2 355.0,1044.1 356.0,1043.8 357.0,1043.3 358.0,1043.5 359.0,1046.4 360.0,1045.9 361.0,1044.4 362.0,1045.8 363.0,1045.7 364.0,1042.8 365.0,1043.5 366.0,1044.6 367.0,1045.4 368.0,1045.0 369.0,1044.7 370.0,1045.5 371.0,1047.5 372.0,1047.6 373.0,1045.0 374.0,1044.9 375.0,1047.1 376.0,1044.9 377.0,1044.4 378.0,1045.2 379.0,1046.1 380.0,1046.6 381.0,1045.7 382.0,1044.8 383.0,1045.7 384.0,1046.4 385.0,1047.3 386.0,1045.6 387.0,1043.9 388.0,1044.5 389.0,1046.4 390.0,1044.8 391.0,1043.2 392.0,1044.4 393.0,1045.8 394.0,1046.5 395.0,1045.3 396.0,1046.3 397.0,1046.5 398.0,1045.2 399.0,1045.9 400.0,1048.0 401.0,1048.3 402.0,1047.3 403.0,1046.8 404.0,1047.0 405.0,1046.0 406.0,1045.4 407.0,1045.0 408.0,1045.5 409.0,1046.6 410.0,1048.4 411.0,1046.9 412.0,1047.3 413.0,1047.4 414.0,1046.3 415.0,1046.0 416.0,1043.9 417.0,1045.2 418.0,1045.6 419.0,1043.0 420.0,1043.7 421.0,1045.6 422.0,1044.3 423.0,1042.3 424.0,1040.7 425.0,1036.8 426.0,1029.7 427.0,1015.6 428.0,993.9 429.0,966.6 430.0,938.4 431.0,914.8 432.0,901.3 433.0,904.5 434.0,922.1 435.0,948.3 436.0,977.9 437.0,1004.0 438.0,1021.7 439.0,1031.8 440.0,1037.8 441.0,1042.4 442.0,1044.1 443.0,1044.7 444.0,1045.2 445.0,1046.1 446.0,1046.7 447.0,1047.4 448.0,1047.9 449.0,1048.2 450.0,1047.5 451.0,1046.4 452.0,1046.7 453.0,1047.2 454.0,1047.1 455.0,1048.1 456.0,1048.5 457.0,1046.7 458.0,1046.2 459.0,1048.6 460.0,1048.8 461.0,1048.6 462.0,1048.0 463.0,1050.1 464.0,1050.1 465.0,1049.0 466.0,1048.8 467.0,1049.3 468.0,1049.3 469.0,1049.0 470.0,1049.1 471.0,1050.8 472.0,1050.5 473.0,1050.4 474.0,1049.8 475.0,1048.6 476.0,1050.4 477.0,1050.7 478.0,1050.8 479.0,1050.9 480.0,1050.8 481.0,1051.9 482.0,1051.1 483.0,1050.6 484.0,1050.8 485.0,1052.0 486.0,1052.5 487.0,1051.1 488.0,1050.6 489.0,1052.1 490.0,1051.6 491.0,1052.6 492.0,1051.9 493.0,1050.9 494.0,1051.1 495.0,1052.2 496.0,1052.4 497.0,1051.7 498.0,1052.5 499.0,1052.8 500.0,1050.0 501.0,1047.8 502.0,1046.7 503.0,1046.0 504.0,1046.0 505.0,1045.6 506.0,1045.4 507.0,1046.1 508.0,1044.5 509.0,1046.4 510.0,1050.3 511.0,1051.0 512.0,1050.8 513.0,1051.6 514.0,1052.8 515.0,1052.2 516.0,1051.2 517.0,1050.3 518.0,1050.9 519.0,1050.6 520.0,1050.5 521.0,1050.7 522.0,1051.2 523.0,1051.5 524.0,1051.9 525.0,1050.5 526.0,1051.6 527.0,1053.3 528.0,1052.6 529.0,1053.1 530.0,1053.4 531.0,1053.4 532.0,1052.2 533.0,1050.3 534.0,1050.7 535.0,1050.5 536.0,1049.7 537.0,1050.1 538.0,1049.6 539.0,1049.5 540.0,1050.9 541.0,1050.9 542.0,1049.9 543.0,1049.4 544.0,1049.6 545.0,1049.6 546.0,1049.6 547.0,1049.6 548.0,1049.4 549.0,1050.0 550.0,1050.1 551.0,1049.5 552.0,1048.3 553.0,1048.1 554.0,1048.8 555.0,1048.4 556.0,1047.3 557.0,1044.8 558.0,1044.6 559.0,1047.2 560.0,1048.4 561.0,1049.0 562.0,1048.3 563.0,1047.4 564.0,1046.6 565.0,1045.9 566.0,1047.3 567.0,1047.0 568.0,1047.5 569.0,1047.6 570.0,1047.8 571.0,1048.0 572.0,1046.9 573.0,1046.3 574.0,1045.8 575.0,1046.3 576.0,1046.9 577.0,1044.6 578.0,1043.3 579.0,1040.8 580.0,1037.8 581.0,1034.5 582.0,1031.3 583.0,1031.7 584.0,1033.4 585.0,1033.9 586.0,1036.4 587.0,1039.3 588.0,1042.4 589.0,1044.4 590.0,1047.4 591.0,1047.0 592.0,1046.9 593.0,1049.9 594.0,1050.2 595.0,1049.7 596.0,1049.4 597.0,1048.4 598.0,1048.3 599.0,1049.2 600.0,1049.5 601.0,1049.1 602.0,1048.0 603.0,1047.0 604.0,1047.3 605.0,1048.5 606.0,1048.5 607.0,1046.6 608.0,1046.3 609.0,1047.5 610.0,1047.4 611.0,1046.3 612.0,1044.5 613.0,1044.5 614.0,1044.7 615.0,1044.5 616.0,1043.7 617.0,1045.4 618.0,1045.3 619.0,1044.4 620.0,1043.0 621.0,1043.8 622.0,1044.4 623.0,1042.4 624.0,1043.2 625.0,1043.5 626.0,1042.6 627.0,1043.0 628.0,1042.7 629.0,1043.5 630.0,1043.1 631.0,1043.0 632.0,1044.1 633.0,1043.5 634.0,1042.6 635.0,1040.4 636.0,1040.3 637.0,1041.5 638.0,1041.2 639.0,1039.9 640.0,1038.9 641.0,1036.7 642.0,1035.6 643.0,1033.6 644.0,1032.5 645.0,1030.3 646.0,1028.3 647.0,1027.9 648.0,1027.6 649.0,1024.8 650.0,1024.6 651.0,1026.2 652.0,1026.9 653.0,1029.3 654.0,1030.0 655.0,1031.1 656.0,1033.4 657.0,1035.9 658.0,1036.5 659.0,1036.9 660.0,1036.8 661.0,1035.7 662.0,1036.8 663.0,1039.1 664.0,1039.1 665.0,1038.5 666.0,1038.0 667.0,1037.0 668.0,1036.8 669.0,1036.1 670.0,1036.3 671.0,1035.6 672.0,1035.7 673.0,1036.0 674.0,1035.5 675.0,1035.9 676.0,1035.7 677.0,1035.6 678.0,1035.3 679.0,1032.6 680.0,1032.0 681.0,1033.9 682.0,1035.1 683.0,1035.6 684.0,1034.5 685.0,1033.3 686.0,1031.6 687.0,1031.3 688.0,1028.1 689.0,1019.8 690.0,1007.4 691.0,990.1 692.0,969.0 693.0,951.2 694.0,949.9 695.0,962.1 696.0,981.4 697.0,1001.3 698.0,1015.6 699.0,1023.2 700.0,1027.8 701.0,1028.8 702.0,1028.9 703.0,1030.3 704.0,1030.7 705.0,1027.6 706.0,1025.5 707.0,1025.1 708.0,1026.1 709.0,1023.4 710.0,1021.1 711.0,1019.5 712.0,1018.8 713.0,1019.3 714.0,1022.7 715.0,1024.7 716.0,1024.9 717.0,1026.9 718.0,1029.0 719.0,1030.8 720.0,1032.2 721.0,1033.5 722.0,1034.1 723.0,1034.1 724.0,1033.6 725.0,1031.6 726.0,1031.9 727.0,1033.6 728.0,1033.3 729.0,1032.1 730.0,1030.2 731.0,1030.2 732.0,1032.3 733.0,1032.3 734.0,1031.2 735.0,1030.1 736.0,1029.2 737.0,1030.6 738.0,1031.7 739.0,1031.6 740.0,1029.5 741.0,1027.6 742.0,1025.9 743.0,1025.5 744.0,1022.1 745.0,1014.5 746.0,1006.8 747.0,997.2 748.0,985.9 749.0,975.6 750.0,971.5 751.0,971.2 752.0,973.3 753.0,979.8 754.0,988.3 755.0,1000.9 756.0,1009.5 757.0,1014.7 758.0,1018.2 759.0,1020.3 761.0,1017.0 764.7,1022.0 768.0,1019.0 771.0,1011.0 774.5,1004.0 774.5,945.0 776.7,941.0 776.7,808.0 777.5,782.0 779.8,736.0 780.3,615.0 781.5,625.0 784.5,736.0 786.0,782.0 788.5,835.0 790.6,866.0 793.5,845.0 796.5,827.0 798.7,821.0 800.5,836.0 801.5,853.0 801.5,950.0 803.0,954.0 803.0,1004.0 806.0,1013.0 813.0,1021.0 825.5,1028.0 827.0,1028.2 828.0,1029.0 829.0,1032.0 830.0,1030.1 831.0,1028.0 832.0,1029.9 833.0,1032.9 834.0,1032.9 835.0,1033.1 836.0,1033.9 837.0,1033.6 838.0,1032.5 839.0,1032.0 840.0,1033.5 841.0,1033.5 842.0,1034.8 843.0,1036.7 844.0,1036.1 845.0,1035.5 846.0,1035.7 847.0,1036.6 848.0,1036.5 849.0,1035.1 850.0,1036.5 851.0,1038.4 852.0,1037.6 853.0,1036.1 854.0,1035.5 855.0,1034.8 856.0,1036.5 857.0,1038.9 858.0,1038.0 859.0,1037.0 860.0,1037.4 861.0,1038.1 862.0,1038.4 863.0,1038.2 864.0,1038.4 865.0,1040.1 866.0,1040.9 867.0,1039.4 868.0,1039.5 869.0,1040.5 870.0,1039.0 871.0,1039.3 872.0,1040.1 873.0,1040.8 874.0,1040.2 875.0,1039.6 876.0,1039.9 877.0,1038.5 878.0,1037.3 879.0,1037.5 880.0,1039.1 881.0,1038.2 882.0,1039.4 883.0,1040.1 884.0,1039.9 885.0,1038.7 886.0,1038.0 887.0,1038.1 888.0,1037.3 889.0,1037.0 890.0,1038.4 891.0,1037.8 892.0,1039.2 893.0,1038.5 894.0,1037.3 895.0,1038.1 896.0,1038.2 897.0,1036.0 898.0,1035.5 899.0,1035.9 900.0,1037.0 901.0,1037.4 902.0,1036.8 903.0,1035.9 904.0,1036.3 905.0,1037.9 906.0,1038.0 907.0,1036.4 908.0,1035.2 909.0,1036.4 910.0,1036.5 911.0,1036.7 912.0,1037.6 913.0,1036.4 914.0,1034.1 915.0,1033.7 916.0,1034.6 917.0,1032.6 918.0,1028.8 919.0,1021.1 920.0,1009.2 921.0,993.3 922.0,970.7 923.0,940.1 924.0,906.9 925.0,878.4 926.0,859.0 927.0,854.1 928.0,864.4 929.0,884.6 930.0,906.1 931.0,924.8 932.0,937.2 933.0,941.3 934.0,940.7 935.0,941.4 936.0,946.4 937.0,957.5 938.0,974.9 939.0,992.1 940.0,1007.3 941.0,1019.9 942.0,1027.8 943.0,1033.5 944.0,1035.0 945.0,1034.8 946.0,1034.4 947.0,1034.9 948.0,1035.6 949.0,1034.8 950.0,1034.5 951.0,1032.3 952.0,1032.8 953.0,1032.2 954.0,1028.6 955.0,1023.1 956.0,1015.1 957.0,1001.5 958.0,984.8 959.0,966.2 960.0,945.3 961.0,922.9 962.0,904.3 963.0,893.9 964.0,892.6 965.0,899.3 966.0,914.5 967.0,936.7 968.0,959.3 969.0,980.3 970.0,997.0 971.0,1010.4 972.0,1020.5 973.0,1026.3 974.0,1030.1 975.0,1032.9 976.0,1032.5 977.0,1032.9 978.0,1034.0 979.0,1032.2 980.0,1032.0 981.0,1034.4 982.0,1034.5 983.0,1034.6 984.0,1034.8 985.0,1034.7 986.0,1033.6 987.0,1033.2 988.0,1032.7 989.0,1033.5 990.0,1033.6 991.0,1033.0 992.0,1034.1 993.0,1034.6 994.0,1030.9 995.0,1029.9 996.0,1028.4 997.0,1024.8 998.0,1019.6 999.0,1015.4 1000.0,1008.6 1001.0,999.7 1002.0,990.2 1003.0,980.7 1004.0,970.6 1005.0,960.2 1006.0,950.2 1007.0,939.2 1008.0,931.6 1009.0,926.7 1010.0,925.7 1011.0,926.7 1012.0,930.2 1013.0,936.6 1014.0,946.4 1015.0,958.3 1016.0,970.5 1017.0,980.4 1018.0,988.7 1019.0,998.0 1020.0,1006.6 1021.0,1013.2 1022.0,1018.8 1023.0,1023.4 1024.0,1025.8 1025.0,1026.5 1026.0,1027.1 1027.0,1028.8 1028.0,1029.2 1029.0,1030.7 1030.0,1031.4 1031.0,1030.4 1032.0,1031.6 1033.0,1033.1 1034.0,1035.3 1035.0,1034.4 1036.0,1033.0 1037.0,1035.0 1038.0,1036.0 1039.0,1035.9 1040.0,1036.4 1041.0,1037.8 1042.0,1038.6 1043.0,1038.4 1044.0,1037.7 1045.0,1038.0 1046.0,1037.5 1047.0,1038.0 1048.0,1039.2 1049.0,1039.8 1050.0,1041.6 1051.0,1044.5 1052.0,1043.5 1053.0,1041.6 1054.0,1040.9 1055.0,1042.0 1056.0,1042.1 1057.0,1042.1 1058.0,1044.2 1059.0,1044.3 1060.0,1045.6 1061.0,1047.5 1062.0,1045.6 1063.0,1044.5 1064.0,1044.5 1065.0,1043.8 1066.0,1043.2 1067.0,1044.0 1068.0,1045.0 1069.0,1043.7 1070.0,1042.2 1071.0,1042.0 1072.0,1042.5 1073.0,1043.7 1074.0,1044.5 1075.0,1044.8 1076.0,1045.0 1077.0,1044.2 1078.0,1044.5 1079.0,1044.5 1080.0,1043.8 1081.0,1042.4 1082.0,1043.9 1083.0,1042.5 1084.0,1042.8 1085.0,1044.5 1086.0,1044.9 1087.0,1046.2 1088.0,1045.1 1089.0,1043.9 1090.0,1044.5 1091.0,1044.7 1092.0,1045.9 1093.0,1044.9 1094.0,1041.4 1095.0,1036.5 1096.0,1032.0 1097.0,1026.4 1098.0,1018.3 1099.0,1012.2 1100.0,1009.7 1101.0,1008.8 1102.0,1010.1 1103.0,1014.0 1104.0,1019.4 1105.0,1027.3 1106.0,1031.3 1107.0,1032.5 1108.0,1033.3 1109.0,1033.8 1110.0,1034.6 1111.0,1032.2 1112.0,1030.0 1113.0,1032.4 1114.0,1033.5 1115.0,1032.8 1116.0,1034.3 1117.0,1039.3 1118.0,1041.4 1119.0,1042.9 1120.0,1044.5 1121.0,1047.0 1122.0,1048.1 1123.0,1047.6 1124.0,1046.8 1125.0,1047.2 1126.0,1047.2 1127.0,1046.3 1128.0,1047.9 1129.0,1047.7 1130.0,1047.9 1131.0,1048.4 1132.0,1049.3 1133.0,1050.2 1134.0,1050.7 1135.0,1048.6 1136.0,1047.8 1137.0,1048.5 1138.0,1048.8 1139.0,1049.6 1140.0,1049.0 1141.0,1049.8 1142.0,1051.0 1143.0,1051.3 1144.0,1051.1 1145.0,1052.1 1146.0,1051.6 1147.0,1049.5 1148.0,1050.7 1149.0,1051.2 1150.0,1050.7 1151.0,1050.6 1152.0,1051.4 1153.0,1052.1 1154.0,1052.6 1155.0,1053.7 1156.0,1053.1 1157.0,1051.3 1158.0,1051.0 1159.0,1051.9 1160.0,1051.1 1161.0,1051.4 1162.0,1052.0 1163.0,1052.4 1164.0,1052.2 1165.0,1052.1 1166.0,1050.6 1167.0,1050.2 1168.0,1049.1 1169.0,1048.7 1170.0,1047.7 1171.0,1045.1 1172.0,1043.2 1173.0,1044.8 1174.0,1044.4 1175.0,1043.1 1176.0,1042.0 1177.0,1042.4 1178.0,1043.6 1179.0,1044.5 1180.0,1046.0 1181.0,1045.9 1182.0,1046.0 1183.0,1047.3 1184.0,1047.3 1185.0,1047.4 1186.0,1046.4 1187.0,1047.6 1188.0,1048.5 1189.0,1047.8 1190.0,1048.1 1191.0,1048.7 1192.0,1048.8 1193.0,1049.7 1194.0,1048.4 1195.0,1047.9 1196.0,1047.4 1197.0,1045.8 1198.0,1046.4 1199.0,1048.2 1200.0,1048.6 1201.0,1049.4 1202.0,1048.3 1203.0,1047.7 1204.0,1048.0 1205.0,1047.3 1206.0,1046.4 1207.0,1043.5 1208.0,1042.8 1209.0,1042.1 1210.0,1041.2 1211.0,1041.0 1212.0,1040.5 1213.0,1039.7 1214.0,1040.1 1215.0,1042.3 1216.0,1043.6 1217.0,1045.8 1218.0,1047.5 1219.0,1047.3 1220.0,1047.1 1221.0,1048.4 1222.0,1049.7 1223.0,1049.9 1224.0,1050.8 1225.0,1050.3 1226.0,1049.9 1227.0,1049.5 1228.0,1050.2 1229.0,1051.2 1230.0,1050.3 1231.0,1049.8 1232.0,1050.0 1233.0,1050.7 1234.0,1049.4 1235.0,1050.1 1236.0,1052.1 1237.0,1052.7 1238.0,1051.7 1239.0,1051.5 1240.0,1050.0 1241.0,1051.6 1242.0,1051.7 1243.0,1050.0 1244.0,1049.5 1245.0,1050.9 1246.0,1052.2 1247.0,1052.5 1248.0,1052.6 1249.0,1053.3 1250.0,1052.8 1251.0,1051.2 1252.0,1051.6 1253.0,1052.4 1254.0,1053.4 1255.0,1053.0 1256.0,1053.8 1257.0,1054.2 1258.0,1055.4 1259.0,1053.9 1260.0,1053.3 1261.0,1053.4 1262.0,1054.4 1263.0,1055.8 1264.0,1053.7 1265.0,1052.8 1266.0,1053.7 1267.0,1054.0 1268.0,1053.2 1269.0,1054.2 1270.0,1054.3 1271.0,1053.2 1272.0,1052.5 1273.0,1052.0 1274.0,1052.0 1275.0,1052.2 1276.0,1054.0 1277.0,1054.2 1278.0,1052.4 1279.0,1051.3 1280.0,1049.8 1281.0,1050.6 1282.0,1051.5 1283.0,1051.3 1284.0,1050.9 1285.0,1050.8 1286.0,1049.3 1287.0,1048.2 1288.0,1047.6 1289.0,1043.4 1290.0,1041.2 1291.0,1039.5 1292.0,1036.9 1293.0,1034.1 1294.0,1031.3 1295.0,1028.0 1296.0,1025.7 1297.0,1023.6 1298.0,1021.2 1299.0,1019.3 1300.0,1017.6 1301.0,1017.6 1302.0,1019.6 1303.0,1022.3 1304.0,1024.0 1305.0,1025.8 1306.0,1026.8 1307.0,1026.1 1308.0,1023.8 1309.0,1022.8 1310.0,1020.8 1311.0,1019.0 1312.0,1016.3 1313.0,1015.5 1314.0,1016.9 1315.0,1020.1 1316.0,1023.5 1317.0,1029.4 1318.0,1035.2 1319.0,1039.7 1320.0,1041.9 1321.0,1044.9 1322.0,1047.5 1323.0,1047.1 1324.0,1047.8 1325.0,1047.3 1326.0,1047.5 1327.0,1048.4 1328.0,1048.5 1329.0,1047.1 1330.0,1047.0 1331.0,1048.9 1332.0,1048.8 1333.0,1049.2 1334.0,1049.5 1335.0,1049.2 1336.0,1048.3 1337.0,1047.7 1338.0,1046.9 1339.0,1047.6 1340.0,1047.2 1341.0,1047.3 1342.0,1047.7 1343.0,1045.5 1344.0,1042.4 1345.0,1039.7 1346.0,1040.0 1347.0,1039.7 1348.0,1037.8 1349.0,1038.5 1350.0,1039.3 1351.0,1041.1 1352.0,1042.6 1353.0,1043.7 1354.0,1045.7 1355.0,1047.3 1356.0,1050.7 1357.0,1051.7 1358.0,1051.2 1359.0,1051.4 1360.0,1051.5 1361.0,1051.7 1362.0,1051.8 1363.0,1051.5 1364.0,1051.2 1365.0,1050.1 1366.0,1050.1 1367.0,1050.7 1368.0,1051.3 1369.0,1051.6 1370.0,1052.8 1371.0,1051.4 1372.0,1050.7 1373.0,1051.4 1374.0,1052.2 1375.0,1052.5 1376.0,1050.7 1377.0,1048.0 1378.0,1046.6 1379.0,1045.0 1380.0,1041.3 1381.0,1036.8 1382.0,1031.6 1383.0,1027.5 1384.0,1023.0 1385.0,1019.0 1386.0,1016.2 1387.0,1015.4 1388.0,1018.8 1389.0,1025.2 1390.0,1030.0 1391.0,1032.5 1392.0,1038.5 1393.0,1044.1 1394.0,1046.4 1395.0,1046.9 1396.0,1048.2 1397.0,1048.4 1398.0,1048.7 1399.0,1050.0 1400.0,1049.9 1401.0,1048.4 1402.0,1047.6 1403.0,1047.2 1404.0,1048.0 1405.0,1050.9 1406.0,1051.9 1407.0,1050.9 1408.0,1050.8 1409.0,1049.8 1410.0,1050.3 1411.0,1051.4 1412.0,1051.1 1413.0,1050.3 1414.0,1048.8 1415.0,1049.0 1416.0,1050.1 1417.0,1050.6 1418.0,1051.0 1419.0,1050.9 1420.0,1051.3 1421.0,1052.0 1422.0,1052.5 1423.0,1052.3 1424.0,1051.9 1425.0,1052.5 1426.0,1053.6 1427.0,1052.9 1428.0,1052.1 1429.0,1052.5 1430.0,1054.0 1431.0,1055.1 1432.0,1055.5 1433.0,1055.0 1434.0,1055.8 1435.0,1055.0 1436.0,1054.7 1437.0,1055.0 1438.0,1056.3 1439.0,1057.1 1440.0,1056.3 1441.0,1055.4 1442.0,1055.1 1443.0,1056.4 1444.0,1056.7 1445.0,1056.8 1446.0,1056.6 1447.0,1056.6 1448.0,1057.5 1449.0,1058.5 1450.0,1058.9 1451.0,1058.2 1452.0,1058.0 1453.0,1057.6 1454.0,1057.1 1455.0,1056.6 1456.0,1058.1 1457.0,1058.8 1458.0,1058.8 1459.0,1057.3 1460.0,1057.0 1461.0,1056.6 1462.0,1057.1 1463.0,1057.4 1464.0,1057.7 1465.0,1057.4 1466.0,1057.4 1467.0,1056.9 1468.0,1057.2 1469.0,1056.6 1470.0,1056.3 1471.0,1056.8 1472.0,1056.6 1473.0,1055.0 1474.0,1054.8 1475.0,1056.2 1476.0,1055.9 1477.0,1054.0 1478.0,1053.9 1479.0,1055.2 1480.0,1056.4 1481.0,1056.8 1482.0,1057.5 1483.0,1058.2 1484.0,1058.2 1485.0,1055.4 1486.0,1056.0 1487.0,1056.9 1488.0,1055.1 1489.0,1054.9 1490.0,1056.8 1491.0,1058.3 1492.0,1057.9 1493.0,1055.5 1494.0,1055.5 1495.0,1056.7 1496.0,1057.1 1497.0,1057.8 1498.0,1058.6 1499.0,1059.6 1500.0,1058.6 1501.0,1058.4 1502.0,1058.8 1503.0,1059.2 1504.0,1058.0 1505.0,1058.5 1506.0,1057.8 1507.0,1057.8 1508.0,1060.0 1509.0,1060.6 1510.0,1061.0 1511.0,1060.4 1512.0,1060.4 1513.0,1060.3 1514.0,1060.4 1515.0,1060.1 1516.0,1060.8 1517.0,1059.7 1518.0,1060.6 1519.0,1059.7 1520.0,1059.6 1521.0,1058.8 1522.0,1058.2 1523.0,1057.0 1524.0,1052.9 1525.0,1047.9 1526.0,1043.9 1527.0,1038.7 1528.0,1033.1 1529.0,1033.8 1530.0,1035.4 1531.0,1036.9 1532.0,1042.6 1533.0,1048.1 1534.0,1050.5 1535.0,1053.2 1536.0,1055.4 1537.0,1057.2 1538.0,1058.0 1539.0,1057.2 1540.0,1057.2 1541.0,1057.9 1542.0,1057.6 1543.0,1057.2 1544.0,1057.4 1545.0,1055.6 1546.0,1055.9 1547.0,1055.4 1548.0,1054.8 1549.0,1054.6 1550.0,1054.3 1551.0,1054.6 1552.0,1052.0 1553.0,1049.8 1554.0,1049.0 1555.0,1046.4 1556.0,1042.9 1557.0,1043.4 1558.0,1043.9 1559.0,1043.0 1560.0,1043.0 1561.0,1042.4 1562.0,1041.3 1563.0,1038.0 1564.0,1035.7 1565.0,1035.4 1566.0,1035.7 1567.0,1036.3 1568.0,1036.0 1569.0,1037.6 1570.0,1041.5 1571.0,1044.9 1572.0,1048.8 1573.0,1049.6 1574.0,1049.7 1575.0,1051.6 1576.0,1052.6 1577.0,1052.9 1578.0,1053.6 1579.0,1054.2 1580.0,1054.5 1581.0,1054.7 1582.0,1055.5 1583.0,1055.7 1584.0,1055.4 1585.0,1054.7 1586.0,1052.8 1587.0,1052.6 1588.0,1053.8 1589.0,1054.6 1590.0,1053.7 1591.0,1054.4 1592.0,1055.9 1593.0,1057.2 1594.0,1055.9 1595.0,1055.1 1596.0,1056.0 1597.0,1055.4 1598.0,1054.8 1599.0,1054.8 1600.0,1053.0 1601.0,1052.5 1602.0,1051.8 1603.0,1050.4 1604.0,1047.2 1605.0,1045.2 1606.0,1044.8 1607.0,1044.4 1608.0,1044.4 1609.0,1044.6 1610.0,1046.2 1611.0,1047.9 1612.0,1048.7 1613.0,1049.6 1614.0,1051.9 1615.0,1051.7 1616.0,1053.4 1617.0,1055.1 1618.0,1055.2 1619.0,1057.0 1620.0,1058.3 1621.0,1058.0 1622.0,1057.0 1623.0,1056.7 1624.0,1055.8 1625.0,1056.3 1626.0,1056.5 1627.0,1056.2 1628.0,1056.0 1629.0,1055.1 1630.0,1053.8 1631.0,1055.0 1632.0,1055.3 1633.0,1054.8 1634.0,1051.4 1635.0,1047.3 1636.0,1043.8 1637.0,1039.6 1638.0,1035.4 1639.0,1032.4 1640.0,1031.4 1641.0,1034.5 1642.0,1037.9 1643.0,1038.5 1644.0,1041.6 1645.0,1045.3 1646.0,1046.3 1647.0,1045.6 1648.0,1043.1 1649.0,1042.7 1650.0,1042.9 1651.0,1042.2 1652.0,1040.9 1653.0,1039.9 1654.0,1040.7 1655.0,1040.4 1656.0,1041.3 1657.0,1043.5 1658.0,1046.9 1659.0,1047.6 1660.0,1047.8 1661.0,1047.3 1662.0,1049.1 1663.0,1047.5 1664.0,1043.0 1665.0,1040.4 1666.0,1039.6 1667.0,1036.4 1668.0,1035.8 1669.0,1033.6 1670.0,1033.4 1671.0,1038.6 1672.0,1042.7 1673.0,1046.2 1674.0,1048.9 1675.0,1052.3 1676.0,1055.4 1677.0,1055.4 1678.0,1055.8 1679.0,1058.4 1680.0,1058.9 1681.0,1059.9 1682.0,1059.0 1683.0,1058.6 1684.0,1058.2 1685.0,1057.5 1686.0,1059.7 1687.0,1059.3 1688.0,1059.7 1689.0,1061.0 1690.0,1060.6 1691.0,1060.8 1692.0,1060.7 1693.0,1060.8 1694.0,1060.9 1695.0,1061.0 1696.0,1060.1 1697.0,1059.8 1698.0,1059.4 1699.0,1059.7 1700.0,1057.7 1701.0,1058.9 1702.0,1059.7 1703.0,1059.5 1704.0,1059.5 1705.0,1060.8 1706.0,1061.0 1707.0,1058.1 1708.0,1056.1 1709.0,1056.3 1710.0,1056.8 1711.0,1057.3 1712.0,1057.5 1713.0,1057.7 1714.0,1056.1 1715.0,1055.3 1716.0,1054.5 1717.0,1052.8 1718.0,1052.9 1719.0,1054.0 1720.0,1050.9 1721.0,1047.7 1722.0,1046.4 1723.0,1047.9 1724.0,1047.0 1725.0,1047.0 1726.0,1049.6 1727.0,1048.9 1728.0,1046.5 1729.0,1048.0 1730.0,1050.5 1731.0,1051.1 1732.0,1051.0 1733.0,1054.0 1734.0,1054.9 1735.0,1052.5 1736.0,1051.6 1737.0,1052.8 1738.0,1055.3 1739.0,1056.2 1740.0,1055.4 1741.0,1054.5 1742.0,1055.0 1743.0,1055.1 1744.0,1053.4 1745.0,1052.7 1746.0,1054.4 1747.0,1055.7 1748.0,1054.9 1749.0,1054.0 1750.0,1053.2 1751.0,1053.0 1752.0,1050.8 1753.0,1050.5 1754.0,1049.7 1755.0,1048.5 1756.0,1047.3 1757.0,1047.2 1758.0,1045.6 1759.0,1044.3 1760.0,1044.2 1761.0,1043.4 1762.0,1042.6 1763.0,1043.0 1764.0,1044.3 1765.0,1044.1 1766.0,1045.2 1767.0,1046.8 1768.0,1048.4 1769.0,1050.1 1770.0,1052.1 1771.0,1050.9 1772.0,1052.6 1773.0,1053.9 1774.0,1054.6 1775.0,1053.7 1776.0,1055.1 1777.0,1054.4 1778.0,1055.7 1779.0,1056.2 1780.0,1055.5 1781.0,1054.7 1782.0,1054.7 1783.0,1055.3 1784.0,1054.5 1785.0,1053.1 1786.0,1053.7 1787.0,1056.3 1788.0,1057.1 1789.0,1056.7 1790.0,1056.2" fill="none" stroke="#f07450" stroke-opacity="0.2" stroke-width="13" stroke-linejoin="round" stroke-linecap="butt"/>
<polyline points="190.0,562.7 191.0,558.5 192.0,560.1 193.0,560.1 194.0,559.9 195.0,559.5 196.0,557.8 197.0,559.2 198.0,561.2 199.0,565.4 200.0,562.7 201.0,560.4 202.0,560.1 203.0,559.3 204.0,558.9 205.0,560.1 206.0,561.3 207.0,561.3 208.0,562.1 209.0,561.1 210.0,561.6 211.0,563.4 212.0,562.2 213.0,560.4 214.0,560.7 215.0,562.5 216.0,563.8 217.0,561.3 218.0,560.9 219.0,561.8 220.0,560.0 221.0,560.5 222.0,562.3 223.0,562.2 224.0,561.6 225.0,560.5 226.0,557.6 227.0,560.5 228.0,559.1 229.0,558.1 230.0,560.7 231.0,561.7 232.0,559.9 233.0,558.9 234.0,560.1 235.0,561.2 236.0,562.9 237.0,562.4 238.0,561.6 239.0,561.9 240.0,559.9 241.0,558.3 242.0,558.8 243.0,556.5 244.0,550.0 245.0,540.9 246.0,528.8 247.0,512.3 248.0,500.5 249.0,489.2 250.0,482.5 251.0,487.9 252.0,499.7 253.0,515.3 254.0,527.4 255.0,540.5 256.0,552.0 257.0,557.0 258.0,556.1 259.0,558.8 260.0,561.1 261.0,561.6 262.0,563.3 263.0,561.3 264.0,561.8 265.0,561.9 266.0,564.2 267.0,563.3 268.0,561.7 269.0,561.4 270.0,565.3 271.0,565.8 272.0,565.7 273.0,566.0 274.0,564.7 275.0,563.0 276.0,562.4 277.0,563.5 278.0,565.4 279.0,562.9 280.0,563.1 281.0,564.3 282.0,565.5 283.0,565.6 284.0,563.0 285.0,562.4 286.0,565.4 287.0,567.9 288.0,567.7 289.0,566.5 290.0,565.9 291.0,566.4 292.0,566.5 293.0,567.1 294.0,565.9 295.0,566.4 296.0,566.9 297.0,567.7 298.0,568.8 299.0,571.6 300.0,571.3 301.0,569.2 302.0,565.0 303.0,565.7 304.0,566.8 305.0,567.1 306.0,565.3 307.0,569.0 308.0,569.5 309.0,566.3 310.0,565.8 311.0,566.7 312.0,568.4 313.0,570.4 314.0,571.8 315.0,569.8 316.0,569.9 317.0,570.4 318.0,572.0 319.0,571.7 320.0,571.0 321.0,568.3 322.0,568.2 323.0,569.0 324.0,571.7 325.0,571.3 326.0,569.5 327.0,569.4 328.0,570.2 329.0,568.9 330.0,568.8 331.0,571.8 332.0,574.1 333.0,571.1 334.0,569.2 335.0,568.2 336.0,568.6 337.0,571.5 338.0,572.5 339.0,571.6 340.0,571.6 341.0,571.5 342.0,570.7 343.0,568.9 344.0,569.9 345.0,570.9 346.0,570.0 347.0,569.9 348.0,569.8 349.0,571.0 350.0,572.4 351.0,571.3 352.0,571.6 353.0,573.0 354.0,573.8 355.0,573.5 356.0,570.0 357.0,571.8 358.0,571.6 359.0,572.2 360.0,573.7 361.0,574.4 362.0,574.1 363.0,573.5 364.0,574.3 365.0,572.4 366.0,572.2 367.0,573.0 368.0,572.9 369.0,575.6 370.0,575.9 371.0,576.0 372.0,573.2 373.0,572.0 374.0,572.9 375.0,573.4 376.0,572.2 377.0,572.9 378.0,573.6 379.0,574.7 380.0,573.0 381.0,573.6 382.0,571.9 383.0,570.8 384.0,570.8 385.0,570.9 386.0,573.0 387.0,574.5 388.0,573.8 389.0,574.5 390.0,575.5 391.0,574.0 392.0,573.0 393.0,571.6 394.0,570.5 395.0,572.1 396.0,570.7 397.0,572.6 398.0,573.3 399.0,574.0 400.0,572.5 401.0,571.3 402.0,572.2 403.0,571.6 404.0,571.8 405.0,572.1 406.0,571.9 407.0,571.4 408.0,570.7 409.0,570.3 410.0,568.7 411.0,570.1 412.0,570.6 413.0,573.5 414.0,573.2 415.0,569.6 416.0,570.8 417.0,570.9 418.0,570.1 419.0,571.4 420.0,569.9 421.0,568.1 422.0,569.4 423.0,570.1 424.0,569.3 425.0,567.4 426.0,567.5 427.0,563.7 428.0,553.7 429.0,540.7 430.0,521.5 431.0,495.7 432.0,468.2 433.0,439.5 434.0,420.8 435.0,420.7 436.0,439.1 437.0,468.4 438.0,495.7 439.0,521.4 440.0,541.6 441.0,554.9 442.0,564.0 443.0,565.4 444.0,567.3 445.0,568.1 446.0,568.1 447.0,567.4 448.0,570.0 449.0,568.9 450.0,567.6 451.0,566.2 452.0,566.2 453.0,567.9 454.0,568.4 455.0,567.9 456.0,567.8 457.0,566.9 458.0,566.3 459.0,567.6 460.0,568.0 461.0,568.1 462.0,569.9 463.0,571.2 464.0,570.1 465.0,569.6 466.0,571.6 467.0,572.9 468.0,570.6 469.0,569.8 470.0,570.5 471.0,571.0 472.0,568.4 473.0,570.6 474.0,571.9 475.0,570.6 476.0,572.5 477.0,571.8 478.0,570.2 479.0,570.0 480.0,568.4 481.0,570.1 482.0,572.8 483.0,571.4 484.0,573.1 485.0,572.2 486.0,572.4 487.0,570.4 488.0,567.5 489.0,569.2 490.0,570.5 491.0,568.8 492.0,568.7 493.0,570.6 494.0,569.5 495.0,567.9 496.0,569.5 497.0,571.5 498.0,570.8 499.0,572.2 500.0,572.6 501.0,569.7 502.0,566.7 503.0,565.9 504.0,567.4 505.0,568.3 506.0,567.4 507.0,566.5 508.0,565.3 509.0,565.4 510.0,564.8 511.0,564.6 512.0,563.6 513.0,564.0 514.0,565.8 515.0,566.2 516.0,567.6 517.0,570.3 518.0,571.9 519.0,575.3 520.0,573.5 521.0,571.2 522.0,572.4 523.0,572.1 524.0,571.3 525.0,572.5 526.0,569.6 527.0,567.3 528.0,571.1 529.0,572.0 530.0,573.3 531.0,571.0 532.0,570.6 533.0,573.0 534.0,571.1 535.0,572.3 536.0,574.1 537.0,572.7 538.0,571.9 539.0,572.5 540.0,572.7 541.0,571.2 542.0,572.3 543.0,573.7 544.0,574.8 545.0,571.4 546.0,569.9 547.0,571.4 548.0,570.7 549.0,571.0 550.0,571.4 551.0,571.9 552.0,569.9 553.0,568.5 554.0,565.9 555.0,568.2 556.0,571.3 557.0,569.1 558.0,567.6 559.0,567.6 560.0,569.6 561.0,569.1 562.0,567.7 563.0,569.4 564.0,569.8 565.0,569.5 566.0,568.8 567.0,570.8 568.0,569.6 569.0,567.9 570.0,567.0 571.0,567.6 572.0,568.7 573.0,568.1 574.0,569.1 575.0,569.1 576.0,569.2 577.0,567.6 578.0,563.8 579.0,559.8 580.0,559.8 581.0,558.2 582.0,554.5 583.0,551.6 584.0,548.8 585.0,548.1 586.0,549.9 587.0,554.9 588.0,557.0 589.0,558.0 590.0,559.6 591.0,563.5 592.0,567.1 593.0,566.6 594.0,565.8 595.0,568.5 596.0,569.4 597.0,568.7 598.0,568.3 599.0,568.4 600.0,567.8 601.0,567.0 602.0,565.9 603.0,567.8 604.0,567.9 605.0,567.7 606.0,563.8 607.0,565.8 608.0,566.6 609.0,565.0 610.0,565.5 611.0,566.0 612.0,565.1 613.0,563.4 614.0,563.8 615.0,565.6 616.0,565.8 617.0,564.0 618.0,563.2 619.0,563.6 620.0,563.6 621.0,560.7 622.0,559.8 623.0,560.9 624.0,559.9 625.0,560.2 626.0,561.3 627.0,561.3 628.0,559.9 629.0,560.5 630.0,558.6 631.0,559.6 632.0,557.6 633.0,557.8 634.0,560.0 635.0,559.1 636.0,558.0 637.0,558.6 638.0,559.7 639.0,559.1 640.0,559.2 641.0,559.6 642.0,557.3 643.0,556.3 644.0,556.5 645.0,558.0 646.0,557.6 647.0,556.1 648.0,552.8 649.0,550.9 650.0,550.0 651.0,547.7 652.0,547.3 653.0,546.0 654.0,543.4 655.0,543.4 656.0,544.9 657.0,548.7 658.0,550.6 659.0,548.5 660.0,547.6 661.0,546.9 662.0,550.4 663.0,551.8 664.0,551.8 665.0,553.4 666.0,552.0 667.0,553.2 668.0,553.8 669.0,553.0 670.0,555.3 671.0,555.2 672.0,551.5 673.0,551.0 674.0,553.3 675.0,552.5 676.0,550.7 677.0,551.2 678.0,551.6 679.0,551.7 680.0,552.6 681.0,552.6 682.0,553.7 683.0,552.8 684.0,550.8 685.0,549.8 686.0,547.9 687.0,543.1 688.0,536.4 689.0,531.9 690.0,524.7 691.0,516.5 692.0,505.2 693.0,495.0 694.0,487.1 695.0,482.3 696.0,478.4 697.0,479.3 698.0,485.2 699.0,493.0 700.0,503.1 701.0,513.1 702.0,523.3 703.0,532.3 704.0,535.9 705.0,539.6 706.0,542.8 707.0,544.7 708.0,543.5 709.0,543.7 710.0,544.5 711.0,544.4 712.0,542.1 713.0,539.3 714.0,537.7 715.0,538.8 716.0,539.9 717.0,539.1 718.0,539.7 719.0,541.0 720.0,541.2 721.0,543.1 722.0,545.1 723.0,546.6 724.0,546.5 725.0,546.0 726.0,549.3 727.0,550.4 728.0,548.2 729.0,548.1 730.0,548.5 731.0,548.1 732.0,546.3 733.0,548.4 734.0,547.5 735.0,548.1 736.0,546.8 737.0,545.3 738.0,545.6 739.0,545.9 740.0,543.6 741.0,542.7 742.0,541.2 743.0,539.5 744.0,541.2 745.0,538.9 746.0,535.3 747.0,531.9 748.0,525.4 749.0,521.4 750.0,518.7 751.0,511.5 752.0,501.0 753.0,494.8 754.0,495.8 755.0,498.1 756.0,497.6 757.0,500.0 758.0,504.2 759.0,507.6 760.0,513.7 761.0,519.8 763.0,537.0 766.0,539.5 769.0,536.0 772.0,526.0 775.0,512.0 775.0,492.0 777.0,488.0 777.0,433.0 779.5,428.0 780.0,300.0 780.5,200.0 782.0,160.0 783.5,149.0 785.5,160.0 786.5,210.0 787.0,268.0 789.5,309.0 791.5,340.0 793.5,366.0 796.0,347.0 798.5,325.0 801.0,317.0 802.5,335.0 804.0,372.0 805.7,420.0 805.7,482.0 807.8,486.0 807.8,520.0 811.0,535.0 817.0,546.0 828.0,553.0 830.0,551.8 831.0,551.0 832.0,548.5 833.0,548.4 834.0,550.1 835.0,549.1 836.0,548.0 837.0,547.7 838.0,548.2 839.0,547.1 840.0,548.1 841.0,550.3 842.0,550.7 843.0,551.6 844.0,553.1 845.0,553.7 846.0,554.9 847.0,557.6 848.0,558.0 849.0,557.7 850.0,556.1 851.0,554.7 852.0,554.0 853.0,554.6 854.0,553.7 855.0,556.0 856.0,559.4 857.0,561.3 858.0,560.2 859.0,558.3 860.0,559.0 861.0,558.9 862.0,560.5 863.0,560.8 864.0,562.9 865.0,565.3 866.0,564.4 867.0,564.6 868.0,562.0 869.0,561.0 870.0,563.3 871.0,563.6 872.0,560.7 873.0,559.8 874.0,558.4 875.0,559.8 876.0,561.3 877.0,559.9 878.0,557.9 879.0,556.7 880.0,558.4 881.0,559.1 882.0,558.1 883.0,556.2 884.0,554.9 885.0,557.5 886.0,556.4 887.0,556.2 888.0,556.6 889.0,554.5 890.0,556.8 891.0,558.6 892.0,560.3 893.0,562.0 894.0,560.4 895.0,557.5 896.0,558.9 897.0,560.5 898.0,560.0 899.0,557.7 900.0,557.5 901.0,560.4 902.0,560.9 903.0,559.4 904.0,558.4 905.0,560.4 906.0,556.6 907.0,559.3 908.0,563.0 909.0,561.1 910.0,559.9 911.0,559.1 912.0,560.6 913.0,558.4 914.0,558.6 915.0,557.5 916.0,554.9 917.0,553.1 918.0,546.8 919.0,540.9 920.0,533.5 921.0,522.7 922.0,510.4 923.0,495.0 924.0,476.0 925.0,457.4 926.0,440.9 927.0,428.1 928.0,420.4 929.0,416.8 930.0,420.2 931.0,428.6 932.0,441.8 933.0,459.7 934.0,476.2 935.0,495.1 936.0,512.5 937.0,523.8 938.0,534.5 939.0,542.0 940.0,548.7 941.0,552.8 942.0,556.9 943.0,559.5 944.0,562.4 945.0,565.0 946.0,564.6 947.0,564.5 948.0,563.6 949.0,562.7 950.0,561.2 951.0,560.2 952.0,562.9 953.0,565.1 954.0,562.9 955.0,560.7 956.0,560.2 957.0,554.7 958.0,547.9 959.0,539.4 960.0,529.5 961.0,518.4 962.0,505.3 963.0,485.8 964.0,466.9 965.0,452.9 966.0,443.1 967.0,438.5 968.0,444.1 969.0,455.3 970.0,469.4 971.0,485.3 972.0,499.4 973.0,514.8 974.0,531.9 975.0,542.0 976.0,546.4 977.0,552.6 978.0,556.7 979.0,559.2 980.0,559.7 981.0,559.4 982.0,560.3 983.0,560.6 984.0,559.4 985.0,556.1 986.0,554.5 987.0,556.5 988.0,556.9 989.0,559.1 990.0,560.0 991.0,558.6 992.0,556.9 993.0,556.8 994.0,556.3 995.0,553.1 996.0,552.2 997.0,549.5 998.0,545.7 999.0,541.6 1000.0,534.4 1001.0,528.5 1002.0,519.5 1003.0,510.7 1004.0,502.6 1005.0,495.3 1006.0,486.1 1007.0,478.6 1008.0,471.9 1009.0,470.2 1010.0,469.2 1011.0,468.3 1012.0,471.9 1013.0,476.8 1014.0,484.4 1015.0,489.2 1016.0,495.8 1017.0,507.2 1018.0,514.3 1019.0,520.2 1020.0,526.8 1021.0,532.5 1022.0,538.9 1023.0,543.9 1024.0,550.2 1025.0,551.9 1026.0,550.4 1027.0,551.6 1028.0,553.7 1029.0,554.0 1030.0,556.7 1031.0,557.9 1032.0,557.5 1033.0,558.3 1034.0,560.7 1035.0,562.8 1036.0,563.1 1037.0,561.9 1038.0,562.0 1039.0,561.0 1040.0,561.6 1041.0,561.3 1042.0,562.5 1043.0,560.9 1044.0,561.2 1045.0,563.3 1046.0,563.9 1047.0,562.1 1048.0,563.0 1049.0,564.8 1050.0,565.0 1051.0,564.3 1052.0,565.3 1053.0,566.3 1054.0,568.4 1055.0,567.0 1056.0,563.4 1057.0,562.3 1058.0,565.7 1059.0,567.8 1060.0,567.1 1061.0,566.9 1062.0,564.8 1063.0,563.8 1064.0,566.1 1065.0,566.4 1066.0,565.8 1067.0,563.8 1068.0,564.6 1069.0,564.8 1070.0,565.8 1071.0,564.4 1072.0,563.6 1073.0,564.4 1074.0,566.4 1075.0,565.1 1076.0,563.1 1077.0,562.3 1078.0,563.4 1079.0,565.5 1080.0,562.5 1081.0,563.1 1082.0,565.9 1083.0,566.7 1084.0,565.4 1085.0,565.8 1086.0,566.0 1087.0,565.4 1088.0,564.4 1089.0,564.8 1090.0,563.3 1091.0,562.3 1092.0,559.1 1093.0,558.7 1094.0,555.4 1095.0,554.1 1096.0,555.6 1097.0,554.8 1098.0,555.1 1099.0,554.9 1100.0,557.5 1101.0,556.4 1102.0,555.2 1103.0,557.4 1104.0,558.7 1105.0,557.6 1106.0,559.5 1107.0,561.7 1108.0,560.0 1109.0,557.4 1110.0,556.3 1111.0,556.2 1112.0,552.6 1113.0,550.4 1114.0,553.0 1115.0,555.2 1116.0,559.0 1117.0,558.4 1118.0,557.0 1119.0,558.3 1120.0,561.3 1121.0,561.6 1122.0,562.8 1123.0,564.8 1124.0,566.3 1125.0,567.3 1126.0,568.6 1127.0,571.1 1128.0,571.1 1129.0,568.9 1130.0,572.5 1131.0,571.8 1132.0,571.5 1133.0,569.8 1134.0,570.5 1135.0,570.9 1136.0,571.2 1137.0,572.3 1138.0,571.6 1139.0,569.7 1140.0,570.7 1141.0,572.5 1142.0,572.4 1143.0,571.1 1144.0,570.9 1145.0,570.7 1146.0,569.4 1147.0,570.2 1148.0,573.4 1149.0,572.3 1150.0,571.6 1151.0,571.5 1152.0,574.1 1153.0,574.7 1154.0,572.3 1155.0,571.7 1156.0,571.4 1157.0,573.9 1158.0,572.9 1159.0,570.9 1160.0,572.5 1161.0,572.2 1162.0,571.7 1163.0,571.0 1164.0,569.5 1165.0,569.7 1166.0,571.0 1167.0,570.0 1168.0,569.7 1169.0,572.4 1170.0,570.3 1171.0,568.6 1172.0,568.8 1173.0,570.8 1174.0,571.4 1175.0,570.7 1176.0,570.0 1177.0,567.3 1178.0,567.6 1179.0,568.2 1180.0,568.9 1181.0,568.5 1182.0,567.5 1183.0,571.7 1184.0,568.9 1185.0,568.9 1186.0,570.0 1187.0,569.9 1188.0,567.4 1189.0,563.6 1190.0,565.6 1191.0,568.4 1192.0,566.9 1193.0,565.4 1194.0,565.2 1195.0,569.5 1196.0,569.5 1197.0,567.6 1198.0,568.0 1199.0,567.9 1200.0,566.8 1201.0,567.6 1202.0,568.6 1203.0,569.1 1204.0,569.1 1205.0,566.6 1206.0,564.7 1207.0,564.1 1208.0,561.5 1209.0,560.1 1210.0,561.4 1211.0,559.7 1212.0,559.4 1213.0,559.5 1214.0,558.3 1215.0,560.6 1216.0,561.9 1217.0,562.5 1218.0,563.8 1219.0,563.0 1220.0,562.6 1221.0,565.6 1222.0,567.4 1223.0,570.2 1224.0,570.4 1225.0,569.7 1226.0,571.1 1227.0,573.4 1228.0,573.5 1229.0,572.5 1230.0,572.0 1231.0,571.2 1232.0,571.5 1233.0,572.4 1234.0,572.0 1235.0,571.6 1236.0,569.6 1237.0,568.2 1238.0,568.5 1239.0,571.1 1240.0,574.1 1241.0,573.7 1242.0,570.2 1243.0,569.5 1244.0,572.4 1245.0,572.1 1246.0,570.5 1247.0,572.6 1248.0,573.0 1249.0,573.8 1250.0,573.2 1251.0,573.2 1252.0,572.0 1253.0,570.2 1254.0,570.4 1255.0,570.8 1256.0,571.8 1257.0,569.6 1258.0,569.0 1259.0,572.1 1260.0,574.0 1261.0,574.4 1262.0,572.8 1263.0,569.2 1264.0,569.2 1265.0,570.0 1266.0,569.8 1267.0,568.0 1268.0,570.1 1269.0,571.0 1270.0,569.8 1271.0,571.2 1272.0,572.7 1273.0,572.0 1274.0,572.9 1275.0,573.0 1276.0,572.0 1277.0,571.2 1278.0,570.8 1279.0,571.9 1280.0,570.0 1281.0,569.4 1282.0,570.5 1283.0,569.5 1284.0,570.6 1285.0,571.4 1286.0,570.1 1287.0,569.6 1288.0,570.3 1289.0,568.6 1290.0,564.5 1291.0,563.8 1292.0,565.9 1293.0,562.8 1294.0,557.1 1295.0,555.2 1296.0,554.3 1297.0,551.4 1298.0,549.9 1299.0,547.5 1300.0,544.6 1301.0,541.2 1302.0,542.2 1303.0,542.9 1304.0,540.4 1305.0,542.2 1306.0,542.9 1307.0,542.3 1308.0,540.4 1309.0,537.9 1310.0,537.2 1311.0,537.9 1312.0,537.0 1313.0,535.6 1314.0,534.4 1315.0,533.9 1316.0,533.5 1317.0,535.7 1318.0,541.7 1319.0,547.4 1320.0,550.8 1321.0,553.0 1322.0,556.7 1323.0,559.3 1324.0,562.6 1325.0,563.4 1326.0,565.2 1327.0,566.7 1328.0,567.6 1329.0,568.2 1330.0,564.8 1331.0,563.5 1332.0,567.7 1333.0,569.9 1334.0,569.5 1335.0,568.0 1336.0,567.6 1337.0,566.4 1338.0,564.3 1339.0,564.8 1340.0,565.7 1341.0,565.1 1342.0,565.5 1343.0,561.1 1344.0,560.6 1345.0,561.3 1346.0,558.3 1347.0,556.0 1348.0,555.5 1349.0,557.7 1350.0,561.4 1351.0,562.0 1352.0,562.4 1353.0,563.0 1354.0,565.3 1355.0,565.4 1356.0,564.7 1357.0,565.8 1358.0,567.8 1359.0,569.2 1360.0,568.4 1361.0,569.4 1362.0,570.6 1363.0,567.1 1364.0,566.2 1365.0,569.0 1366.0,569.0 1367.0,568.2 1368.0,568.1 1369.0,567.9 1370.0,568.4 1371.0,568.1 1372.0,568.4 1373.0,566.3 1374.0,566.2 1375.0,567.4 1376.0,567.4 1377.0,568.2 1378.0,567.1 1379.0,565.8 1380.0,565.5 1381.0,563.2 1382.0,560.1 1383.0,558.5 1384.0,557.1 1385.0,555.5 1386.0,554.1 1387.0,552.6 1388.0,550.6 1389.0,549.9 1390.0,547.7 1391.0,545.8 1392.0,548.0 1393.0,548.8 1394.0,548.7 1395.0,552.0 1396.0,555.8 1397.0,558.1 1398.0,561.1 1399.0,563.1 1400.0,564.6 1401.0,565.1 1402.0,566.5 1403.0,567.1 1404.0,567.7 1405.0,566.1 1406.0,568.6 1407.0,570.8 1408.0,570.1 1409.0,569.3 1410.0,569.2 1411.0,567.5 1412.0,567.3 1413.0,568.4 1414.0,569.7 1415.0,570.7 1416.0,569.7 1417.0,570.6 1418.0,568.4 1419.0,568.9 1420.0,571.1 1421.0,572.6 1422.0,570.1 1423.0,568.5 1424.0,571.5 1425.0,571.8 1426.0,570.3 1427.0,570.3 1428.0,571.4 1429.0,573.2 1430.0,573.6 1431.0,572.8 1432.0,576.3 1433.0,574.9 1434.0,574.0 1435.0,575.3 1436.0,576.3 1437.0,578.9 1438.0,577.7 1439.0,575.2 1440.0,574.6 1441.0,574.8 1442.0,575.6 1443.0,576.6 1444.0,576.3 1445.0,578.1 1446.0,576.7 1447.0,576.4 1448.0,576.5 1449.0,573.3 1450.0,574.2 1451.0,576.6 1452.0,576.5 1453.0,576.4 1454.0,576.5 1455.0,575.5 1456.0,575.1 1457.0,573.4 1458.0,573.6 1459.0,576.8 1460.0,575.3 1461.0,575.6 1462.0,578.6 1463.0,578.4 1464.0,575.9 1465.0,575.4 1466.0,575.7 1467.0,575.3 1468.0,576.9 1469.0,577.1 1470.0,577.2 1471.0,578.1 1472.0,578.9 1473.0,580.3 1474.0,578.9 1475.0,575.3 1476.0,576.6 1477.0,574.8 1478.0,574.4 1479.0,576.7 1480.0,575.9 1481.0,576.5 1482.0,577.8 1483.0,575.9 1484.0,575.4 1485.0,577.4 1486.0,579.0 1487.0,577.5 1488.0,574.6 1489.0,575.1 1490.0,577.3 1491.0,580.1 1492.0,579.6 1493.0,579.2 1494.0,579.0 1495.0,577.4 1496.0,577.8 1497.0,577.5 1498.0,575.9 1499.0,576.8 1500.0,577.2 1501.0,575.9 1502.0,577.6 1503.0,578.4 1504.0,577.8 1505.0,575.6 1506.0,576.4 1507.0,578.3 1508.0,577.1 1509.0,574.8 1510.0,576.0 1511.0,577.3 1512.0,575.8 1513.0,576.6 1514.0,578.6 1515.0,575.7 1516.0,573.7 1517.0,572.4 1518.0,573.3 1519.0,575.7 1520.0,573.7 1521.0,571.3 1522.0,571.0 1523.0,571.8 1524.0,570.9 1525.0,567.5 1526.0,565.4 1527.0,561.6 1528.0,559.3 1529.0,557.9 1530.0,556.8 1531.0,556.2 1532.0,558.5 1533.0,561.7 1534.0,563.3 1535.0,567.6 1536.0,571.3 1537.0,573.3 1538.0,573.0 1539.0,572.9 1540.0,573.2 1541.0,572.4 1542.0,573.0 1543.0,574.0 1544.0,573.4 1545.0,571.5 1546.0,570.7 1547.0,569.5 1548.0,571.6 1549.0,570.8 1550.0,569.7 1551.0,567.6 1552.0,567.4 1553.0,567.6 1554.0,566.0 1555.0,562.5 1556.0,562.7 1557.0,560.9 1558.0,559.2 1559.0,559.7 1560.0,558.9 1561.0,558.3 1562.0,558.5 1563.0,560.1 1564.0,560.9 1565.0,560.7 1566.0,560.2 1567.0,561.2 1568.0,563.1 1569.0,563.8 1570.0,562.4 1571.0,562.4 1572.0,559.7 1573.0,557.7 1574.0,558.5 1575.0,557.7 1576.0,559.7 1577.0,561.5 1578.0,561.2 1579.0,563.6 1580.0,568.0 1581.0,567.7 1582.0,568.5 1583.0,570.2 1584.0,570.3 1585.0,571.0 1586.0,571.0 1587.0,569.5 1588.0,572.8 1589.0,571.3 1590.0,571.0 1591.0,573.1 1592.0,572.6 1593.0,571.2 1594.0,572.0 1595.0,570.9 1596.0,570.5 1597.0,569.7 1598.0,570.7 1599.0,572.3 1600.0,572.1 1601.0,572.0 1602.0,571.8 1603.0,569.5 1604.0,567.3 1605.0,567.5 1606.0,568.6 1607.0,566.4 1608.0,565.0 1609.0,564.3 1610.0,564.5 1611.0,564.9 1612.0,564.7 1613.0,564.8 1614.0,564.7 1615.0,566.0 1616.0,569.0 1617.0,571.2 1618.0,572.0 1619.0,571.2 1620.0,570.8 1621.0,572.9 1622.0,572.8 1623.0,571.1 1624.0,573.4 1625.0,574.8 1626.0,575.0 1627.0,571.4 1628.0,570.9 1629.0,572.6 1630.0,570.3 1631.0,570.4 1632.0,570.4 1633.0,569.7 1634.0,569.0 1635.0,571.1 1636.0,572.9 1637.0,572.1 1638.0,570.6 1639.0,569.4 1640.0,570.1 1641.0,568.7 1642.0,566.6 1643.0,563.0 1644.0,562.9 1645.0,561.6 1646.0,562.6 1647.0,562.4 1648.0,561.2 1649.0,563.5 1650.0,566.0 1651.0,566.6 1652.0,566.8 1653.0,565.9 1654.0,566.1 1655.0,566.8 1656.0,569.2 1657.0,570.7 1658.0,569.1 1659.0,566.2 1660.0,563.3 1661.0,562.3 1662.0,558.7 1663.0,553.4 1664.0,551.0 1665.0,550.9 1666.0,550.7 1667.0,553.0 1668.0,551.9 1669.0,551.3 1670.0,554.8 1671.0,559.6 1672.0,560.8 1673.0,564.9 1674.0,568.6 1675.0,571.9 1676.0,572.8 1677.0,573.1 1678.0,575.1 1679.0,576.2 1680.0,577.5 1681.0,577.9 1682.0,579.7 1683.0,578.1 1684.0,577.6 1685.0,576.7 1686.0,577.4 1687.0,577.8 1688.0,578.4 1689.0,578.9 1690.0,577.1 1691.0,577.0 1692.0,579.1 1693.0,577.7 1694.0,577.3 1695.0,579.5 1696.0,578.1 1697.0,574.0 1698.0,576.1 1699.0,578.7 1700.0,578.6 1701.0,577.6 1702.0,578.7 1703.0,576.5 1704.0,576.3 1705.0,576.9 1706.0,577.2 1707.0,578.3 1708.0,578.4 1709.0,577.6 1710.0,578.1 1711.0,575.9 1712.0,576.4 1713.0,578.5 1714.0,577.5 1715.0,577.3 1716.0,575.6 1717.0,575.1 1718.0,575.4 1719.0,575.4 1720.0,574.8 1721.0,575.1 1722.0,576.1 1723.0,576.1 1724.0,574.5 1725.0,574.1 1726.0,572.9 1727.0,569.0 1728.0,567.8 1729.0,570.9 1730.0,570.5 1731.0,567.9 1732.0,566.6 1733.0,564.4 1734.0,564.0 1735.0,565.7 1736.0,565.7 1737.0,568.2 1738.0,568.4 1739.0,570.7 1740.0,574.3 1741.0,574.6 1742.0,572.7 1743.0,573.0 1744.0,571.1 1745.0,571.4 1746.0,573.6 1747.0,574.7 1748.0,573.0 1749.0,573.4 1750.0,572.7 1751.0,571.0 1752.0,572.6 1753.0,574.6 1754.0,573.2 1755.0,573.3 1756.0,573.0 1757.0,571.5 1758.0,573.2 1759.0,574.0 1760.0,573.5 1761.0,571.6 1762.0,568.2 1763.0,566.3 1764.0,565.2 1765.0,564.4 1766.0,564.9 1767.0,567.4 1768.0,567.8 1769.0,565.8 1770.0,566.1 1771.0,564.7 1772.0,565.3 1773.0,565.1 1774.0,565.4 1775.0,568.2 1776.0,569.5 1777.0,569.3 1778.0,569.2 1779.0,569.3 1780.0,570.4 1781.0,570.8 1782.0,571.2 1783.0,570.4 1784.0,572.0 1785.0,573.5 1786.0,574.6 1787.0,574.2 1788.0,572.5 1789.0,570.3 1790.0,569.0" fill="none" stroke="#125c9e" stroke-width="9.5" stroke-linejoin="round" stroke-linecap="butt"/>
<polyline points="190.0,1041.8 191.0,1041.3 192.0,1042.4 193.0,1043.6 194.0,1044.2 195.0,1043.2 196.0,1042.1 197.0,1042.2 198.0,1043.8 199.0,1044.7 200.0,1043.2 201.0,1041.4 202.0,1042.0 203.0,1044.0 204.0,1042.9 205.0,1041.1 206.0,1041.7 207.0,1041.3 208.0,1041.5 209.0,1041.8 210.0,1042.0 211.0,1042.9 212.0,1042.5 213.0,1042.1 214.0,1043.0 215.0,1042.9 216.0,1041.1 217.0,1041.4 218.0,1041.4 219.0,1041.6 220.0,1041.1 221.0,1042.0 222.0,1042.3 223.0,1041.7 224.0,1041.1 225.0,1041.2 226.0,1040.7 227.0,1040.7 228.0,1041.6 229.0,1041.6 230.0,1043.1 231.0,1042.5 232.0,1040.5 233.0,1041.3 234.0,1041.0 235.0,1041.6 236.0,1041.2 237.0,1039.7 238.0,1040.5 239.0,1040.9 240.0,1040.5 241.0,1037.4 242.0,1034.2 243.0,1026.9 244.0,1017.4 245.0,1005.6 246.0,994.1 247.0,983.2 248.0,978.2 249.0,978.7 250.0,986.7 251.0,998.8 252.0,1010.8 253.0,1022.5 254.0,1031.7 255.0,1035.9 256.0,1038.8 257.0,1040.4 258.0,1041.3 259.0,1041.0 260.0,1041.2 261.0,1041.6 262.0,1041.4 263.0,1041.0 264.0,1041.7 265.0,1040.2 266.0,1039.6 267.0,1040.3 268.0,1042.0 269.0,1041.2 270.0,1040.2 271.0,1040.3 272.0,1041.3 273.0,1040.3 274.0,1040.2 275.0,1041.4 276.0,1040.5 277.0,1040.9 278.0,1041.3 279.0,1041.1 280.0,1041.8 281.0,1042.6 282.0,1041.0 283.0,1039.5 284.0,1039.3 285.0,1040.6 286.0,1041.1 287.0,1041.4 288.0,1040.9 289.0,1040.6 290.0,1040.5 291.0,1040.9 292.0,1041.5 293.0,1041.4 294.0,1042.3 295.0,1043.8 296.0,1042.4 297.0,1041.1 298.0,1043.2 299.0,1042.6 300.0,1041.5 301.0,1042.7 302.0,1042.2 303.0,1041.4 304.0,1041.1 305.0,1041.1 306.0,1042.4 307.0,1043.3 308.0,1042.6 309.0,1043.4 310.0,1044.1 311.0,1042.1 312.0,1042.4 313.0,1042.1 314.0,1041.3 315.0,1041.4 316.0,1042.6 317.0,1043.1 318.0,1042.5 319.0,1043.1 320.0,1043.8 321.0,1043.8 322.0,1044.2 323.0,1044.0 324.0,1044.4 325.0,1045.3 326.0,1044.5 327.0,1043.9 328.0,1043.8 329.0,1042.7 330.0,1043.1 331.0,1044.4 332.0,1044.9 333.0,1045.3 334.0,1043.7 335.0,1042.9 336.0,1045.5 337.0,1045.1 338.0,1043.6 339.0,1044.9 340.0,1043.8 341.0,1042.1 342.0,1042.9 343.0,1044.0 344.0,1045.2 345.0,1043.8 346.0,1043.6 347.0,1043.8 348.0,1043.6 349.0,1043.4 350.0,1044.7 351.0,1045.8 352.0,1045.2 353.0,1043.5 354.0,1043.2 355.0,1044.1 356.0,1043.8 357.0,1043.3 358.0,1043.5 359.0,1046.4 360.0,1045.9 361.0,1044.4 362.0,1045.8 363.0,1045.7 364.0,1042.8 365.0,1043.5 366.0,1044.6 367.0,1045.4 368.0,1045.0 369.0,1044.7 370.0,1045.5 371.0,1047.5 372.0,1047.6 373.0,1045.0 374.0,1044.9 375.0,1047.1 376.0,1044.9 377.0,1044.4 378.0,1045.2 379.0,1046.1 380.0,1046.6 381.0,1045.7 382.0,1044.8 383.0,1045.7 384.0,1046.4 385.0,1047.3 386.0,1045.6 387.0,1043.9 388.0,1044.5 389.0,1046.4 390.0,1044.8 391.0,1043.2 392.0,1044.4 393.0,1045.8 394.0,1046.5 395.0,1045.3 396.0,1046.3 397.0,1046.5 398.0,1045.2 399.0,1045.9 400.0,1048.0 401.0,1048.3 402.0,1047.3 403.0,1046.8 404.0,1047.0 405.0,1046.0 406.0,1045.4 407.0,1045.0 408.0,1045.5 409.0,1046.6 410.0,1048.4 411.0,1046.9 412.0,1047.3 413.0,1047.4 414.0,1046.3 415.0,1046.0 416.0,1043.9 417.0,1045.2 418.0,1045.6 419.0,1043.0 420.0,1043.7 421.0,1045.6 422.0,1044.3 423.0,1042.3 424.0,1040.7 425.0,1036.8 426.0,1029.7 427.0,1015.6 428.0,993.9 429.0,966.6 430.0,938.4 431.0,914.8 432.0,901.3 433.0,904.5 434.0,922.1 435.0,948.3 436.0,977.9 437.0,1004.0 438.0,1021.7 439.0,1031.8 440.0,1037.8 441.0,1042.4 442.0,1044.1 443.0,1044.7 444.0,1045.2 445.0,1046.1 446.0,1046.7 447.0,1047.4 448.0,1047.9 449.0,1048.2 450.0,1047.5 451.0,1046.4 452.0,1046.7 453.0,1047.2 454.0,1047.1 455.0,1048.1 456.0,1048.5 457.0,1046.7 458.0,1046.2 459.0,1048.6 460.0,1048.8 461.0,1048.6 462.0,1048.0 463.0,1050.1 464.0,1050.1 465.0,1049.0 466.0,1048.8 467.0,1049.3 468.0,1049.3 469.0,1049.0 470.0,1049.1 471.0,1050.8 472.0,1050.5 473.0,1050.4 474.0,1049.8 475.0,1048.6 476.0,1050.4 477.0,1050.7 478.0,1050.8 479.0,1050.9 480.0,1050.8 481.0,1051.9 482.0,1051.1 483.0,1050.6 484.0,1050.8 485.0,1052.0 486.0,1052.5 487.0,1051.1 488.0,1050.6 489.0,1052.1 490.0,1051.6 491.0,1052.6 492.0,1051.9 493.0,1050.9 494.0,1051.1 495.0,1052.2 496.0,1052.4 497.0,1051.7 498.0,1052.5 499.0,1052.8 500.0,1050.0 501.0,1047.8 502.0,1046.7 503.0,1046.0 504.0,1046.0 505.0,1045.6 506.0,1045.4 507.0,1046.1 508.0,1044.5 509.0,1046.4 510.0,1050.3 511.0,1051.0 512.0,1050.8 513.0,1051.6 514.0,1052.8 515.0,1052.2 516.0,1051.2 517.0,1050.3 518.0,1050.9 519.0,1050.6 520.0,1050.5 521.0,1050.7 522.0,1051.2 523.0,1051.5 524.0,1051.9 525.0,1050.5 526.0,1051.6 527.0,1053.3 528.0,1052.6 529.0,1053.1 530.0,1053.4 531.0,1053.4 532.0,1052.2 533.0,1050.3 534.0,1050.7 535.0,1050.5 536.0,1049.7 537.0,1050.1 538.0,1049.6 539.0,1049.5 540.0,1050.9 541.0,1050.9 542.0,1049.9 543.0,1049.4 544.0,1049.6 545.0,1049.6 546.0,1049.6 547.0,1049.6 548.0,1049.4 549.0,1050.0 550.0,1050.1 551.0,1049.5 552.0,1048.3 553.0,1048.1 554.0,1048.8 555.0,1048.4 556.0,1047.3 557.0,1044.8 558.0,1044.6 559.0,1047.2 560.0,1048.4 561.0,1049.0 562.0,1048.3 563.0,1047.4 564.0,1046.6 565.0,1045.9 566.0,1047.3 567.0,1047.0 568.0,1047.5 569.0,1047.6 570.0,1047.8 571.0,1048.0 572.0,1046.9 573.0,1046.3 574.0,1045.8 575.0,1046.3 576.0,1046.9 577.0,1044.6 578.0,1043.3 579.0,1040.8 580.0,1037.8 581.0,1034.5 582.0,1031.3 583.0,1031.7 584.0,1033.4 585.0,1033.9 586.0,1036.4 587.0,1039.3 588.0,1042.4 589.0,1044.4 590.0,1047.4 591.0,1047.0 592.0,1046.9 593.0,1049.9 594.0,1050.2 595.0,1049.7 596.0,1049.4 597.0,1048.4 598.0,1048.3 599.0,1049.2 600.0,1049.5 601.0,1049.1 602.0,1048.0 603.0,1047.0 604.0,1047.3 605.0,1048.5 606.0,1048.5 607.0,1046.6 608.0,1046.3 609.0,1047.5 610.0,1047.4 611.0,1046.3 612.0,1044.5 613.0,1044.5 614.0,1044.7 615.0,1044.5 616.0,1043.7 617.0,1045.4 618.0,1045.3 619.0,1044.4 620.0,1043.0 621.0,1043.8 622.0,1044.4 623.0,1042.4 624.0,1043.2 625.0,1043.5 626.0,1042.6 627.0,1043.0 628.0,1042.7 629.0,1043.5 630.0,1043.1 631.0,1043.0 632.0,1044.1 633.0,1043.5 634.0,1042.6 635.0,1040.4 636.0,1040.3 637.0,1041.5 638.0,1041.2 639.0,1039.9 640.0,1038.9 641.0,1036.7 642.0,1035.6 643.0,1033.6 644.0,1032.5 645.0,1030.3 646.0,1028.3 647.0,1027.9 648.0,1027.6 649.0,1024.8 650.0,1024.6 651.0,1026.2 652.0,1026.9 653.0,1029.3 654.0,1030.0 655.0,1031.1 656.0,1033.4 657.0,1035.9 658.0,1036.5 659.0,1036.9 660.0,1036.8 661.0,1035.7 662.0,1036.8 663.0,1039.1 664.0,1039.1 665.0,1038.5 666.0,1038.0 667.0,1037.0 668.0,1036.8 669.0,1036.1 670.0,1036.3 671.0,1035.6 672.0,1035.7 673.0,1036.0 674.0,1035.5 675.0,1035.9 676.0,1035.7 677.0,1035.6 678.0,1035.3 679.0,1032.6 680.0,1032.0 681.0,1033.9 682.0,1035.1 683.0,1035.6 684.0,1034.5 685.0,1033.3 686.0,1031.6 687.0,1031.3 688.0,1028.1 689.0,1019.8 690.0,1007.4 691.0,990.1 692.0,969.0 693.0,951.2 694.0,949.9 695.0,962.1 696.0,981.4 697.0,1001.3 698.0,1015.6 699.0,1023.2 700.0,1027.8 701.0,1028.8 702.0,1028.9 703.0,1030.3 704.0,1030.7 705.0,1027.6 706.0,1025.5 707.0,1025.1 708.0,1026.1 709.0,1023.4 710.0,1021.1 711.0,1019.5 712.0,1018.8 713.0,1019.3 714.0,1022.7 715.0,1024.7 716.0,1024.9 717.0,1026.9 718.0,1029.0 719.0,1030.8 720.0,1032.2 721.0,1033.5 722.0,1034.1 723.0,1034.1 724.0,1033.6 725.0,1031.6 726.0,1031.9 727.0,1033.6 728.0,1033.3 729.0,1032.1 730.0,1030.2 731.0,1030.2 732.0,1032.3 733.0,1032.3 734.0,1031.2 735.0,1030.1 736.0,1029.2 737.0,1030.6 738.0,1031.7 739.0,1031.6 740.0,1029.5 741.0,1027.6 742.0,1025.9 743.0,1025.5 744.0,1022.1 745.0,1014.5 746.0,1006.8 747.0,997.2 748.0,985.9 749.0,975.6 750.0,971.5 751.0,971.2 752.0,973.3 753.0,979.8 754.0,988.3 755.0,1000.9 756.0,1009.5 757.0,1014.7 758.0,1018.2 759.0,1020.3 761.0,1017.0 764.7,1022.0 768.0,1019.0 771.0,1011.0 774.5,1004.0 774.5,945.0 776.7,941.0 776.7,808.0 777.5,782.0 779.8,736.0 780.3,615.0 781.5,625.0 784.5,736.0 786.0,782.0 788.5,835.0 790.6,866.0 793.5,845.0 796.5,827.0 798.7,821.0 800.5,836.0 801.5,853.0 801.5,950.0 803.0,954.0 803.0,1004.0 806.0,1013.0 813.0,1021.0 825.5,1028.0 827.0,1028.2 828.0,1029.0 829.0,1032.0 830.0,1030.1 831.0,1028.0 832.0,1029.9 833.0,1032.9 834.0,1032.9 835.0,1033.1 836.0,1033.9 837.0,1033.6 838.0,1032.5 839.0,1032.0 840.0,1033.5 841.0,1033.5 842.0,1034.8 843.0,1036.7 844.0,1036.1 845.0,1035.5 846.0,1035.7 847.0,1036.6 848.0,1036.5 849.0,1035.1 850.0,1036.5 851.0,1038.4 852.0,1037.6 853.0,1036.1 854.0,1035.5 855.0,1034.8 856.0,1036.5 857.0,1038.9 858.0,1038.0 859.0,1037.0 860.0,1037.4 861.0,1038.1 862.0,1038.4 863.0,1038.2 864.0,1038.4 865.0,1040.1 866.0,1040.9 867.0,1039.4 868.0,1039.5 869.0,1040.5 870.0,1039.0 871.0,1039.3 872.0,1040.1 873.0,1040.8 874.0,1040.2 875.0,1039.6 876.0,1039.9 877.0,1038.5 878.0,1037.3 879.0,1037.5 880.0,1039.1 881.0,1038.2 882.0,1039.4 883.0,1040.1 884.0,1039.9 885.0,1038.7 886.0,1038.0 887.0,1038.1 888.0,1037.3 889.0,1037.0 890.0,1038.4 891.0,1037.8 892.0,1039.2 893.0,1038.5 894.0,1037.3 895.0,1038.1 896.0,1038.2 897.0,1036.0 898.0,1035.5 899.0,1035.9 900.0,1037.0 901.0,1037.4 902.0,1036.8 903.0,1035.9 904.0,1036.3 905.0,1037.9 906.0,1038.0 907.0,1036.4 908.0,1035.2 909.0,1036.4 910.0,1036.5 911.0,1036.7 912.0,1037.6 913.0,1036.4 914.0,1034.1 915.0,1033.7 916.0,1034.6 917.0,1032.6 918.0,1028.8 919.0,1021.1 920.0,1009.2 921.0,993.3 922.0,970.7 923.0,940.1 924.0,906.9 925.0,878.4 926.0,859.0 927.0,854.1 928.0,864.4 929.0,884.6 930.0,906.1 931.0,924.8 932.0,937.2 933.0,941.3 934.0,940.7 935.0,941.4 936.0,946.4 937.0,957.5 938.0,974.9 939.0,992.1 940.0,1007.3 941.0,1019.9 942.0,1027.8 943.0,1033.5 944.0,1035.0 945.0,1034.8 946.0,1034.4 947.0,1034.9 948.0,1035.6 949.0,1034.8 950.0,1034.5 951.0,1032.3 952.0,1032.8 953.0,1032.2 954.0,1028.6 955.0,1023.1 956.0,1015.1 957.0,1001.5 958.0,984.8 959.0,966.2 960.0,945.3 961.0,922.9 962.0,904.3 963.0,893.9 964.0,892.6 965.0,899.3 966.0,914.5 967.0,936.7 968.0,959.3 969.0,980.3 970.0,997.0 971.0,1010.4 972.0,1020.5 973.0,1026.3 974.0,1030.1 975.0,1032.9 976.0,1032.5 977.0,1032.9 978.0,1034.0 979.0,1032.2 980.0,1032.0 981.0,1034.4 982.0,1034.5 983.0,1034.6 984.0,1034.8 985.0,1034.7 986.0,1033.6 987.0,1033.2 988.0,1032.7 989.0,1033.5 990.0,1033.6 991.0,1033.0 992.0,1034.1 993.0,1034.6 994.0,1030.9 995.0,1029.9 996.0,1028.4 997.0,1024.8 998.0,1019.6 999.0,1015.4 1000.0,1008.6 1001.0,999.7 1002.0,990.2 1003.0,980.7 1004.0,970.6 1005.0,960.2 1006.0,950.2 1007.0,939.2 1008.0,931.6 1009.0,926.7 1010.0,925.7 1011.0,926.7 1012.0,930.2 1013.0,936.6 1014.0,946.4 1015.0,958.3 1016.0,970.5 1017.0,980.4 1018.0,988.7 1019.0,998.0 1020.0,1006.6 1021.0,1013.2 1022.0,1018.8 1023.0,1023.4 1024.0,1025.8 1025.0,1026.5 1026.0,1027.1 1027.0,1028.8 1028.0,1029.2 1029.0,1030.7 1030.0,1031.4 1031.0,1030.4 1032.0,1031.6 1033.0,1033.1 1034.0,1035.3 1035.0,1034.4 1036.0,1033.0 1037.0,1035.0 1038.0,1036.0 1039.0,1035.9 1040.0,1036.4 1041.0,1037.8 1042.0,1038.6 1043.0,1038.4 1044.0,1037.7 1045.0,1038.0 1046.0,1037.5 1047.0,1038.0 1048.0,1039.2 1049.0,1039.8 1050.0,1041.6 1051.0,1044.5 1052.0,1043.5 1053.0,1041.6 1054.0,1040.9 1055.0,1042.0 1056.0,1042.1 1057.0,1042.1 1058.0,1044.2 1059.0,1044.3 1060.0,1045.6 1061.0,1047.5 1062.0,1045.6 1063.0,1044.5 1064.0,1044.5 1065.0,1043.8 1066.0,1043.2 1067.0,1044.0 1068.0,1045.0 1069.0,1043.7 1070.0,1042.2 1071.0,1042.0 1072.0,1042.5 1073.0,1043.7 1074.0,1044.5 1075.0,1044.8 1076.0,1045.0 1077.0,1044.2 1078.0,1044.5 1079.0,1044.5 1080.0,1043.8 1081.0,1042.4 1082.0,1043.9 1083.0,1042.5 1084.0,1042.8 1085.0,1044.5 1086.0,1044.9 1087.0,1046.2 1088.0,1045.1 1089.0,1043.9 1090.0,1044.5 1091.0,1044.7 1092.0,1045.9 1093.0,1044.9 1094.0,1041.4 1095.0,1036.5 1096.0,1032.0 1097.0,1026.4 1098.0,1018.3 1099.0,1012.2 1100.0,1009.7 1101.0,1008.8 1102.0,1010.1 1103.0,1014.0 1104.0,1019.4 1105.0,1027.3 1106.0,1031.3 1107.0,1032.5 1108.0,1033.3 1109.0,1033.8 1110.0,1034.6 1111.0,1032.2 1112.0,1030.0 1113.0,1032.4 1114.0,1033.5 1115.0,1032.8 1116.0,1034.3 1117.0,1039.3 1118.0,1041.4 1119.0,1042.9 1120.0,1044.5 1121.0,1047.0 1122.0,1048.1 1123.0,1047.6 1124.0,1046.8 1125.0,1047.2 1126.0,1047.2 1127.0,1046.3 1128.0,1047.9 1129.0,1047.7 1130.0,1047.9 1131.0,1048.4 1132.0,1049.3 1133.0,1050.2 1134.0,1050.7 1135.0,1048.6 1136.0,1047.8 1137.0,1048.5 1138.0,1048.8 1139.0,1049.6 1140.0,1049.0 1141.0,1049.8 1142.0,1051.0 1143.0,1051.3 1144.0,1051.1 1145.0,1052.1 1146.0,1051.6 1147.0,1049.5 1148.0,1050.7 1149.0,1051.2 1150.0,1050.7 1151.0,1050.6 1152.0,1051.4 1153.0,1052.1 1154.0,1052.6 1155.0,1053.7 1156.0,1053.1 1157.0,1051.3 1158.0,1051.0 1159.0,1051.9 1160.0,1051.1 1161.0,1051.4 1162.0,1052.0 1163.0,1052.4 1164.0,1052.2 1165.0,1052.1 1166.0,1050.6 1167.0,1050.2 1168.0,1049.1 1169.0,1048.7 1170.0,1047.7 1171.0,1045.1 1172.0,1043.2 1173.0,1044.8 1174.0,1044.4 1175.0,1043.1 1176.0,1042.0 1177.0,1042.4 1178.0,1043.6 1179.0,1044.5 1180.0,1046.0 1181.0,1045.9 1182.0,1046.0 1183.0,1047.3 1184.0,1047.3 1185.0,1047.4 1186.0,1046.4 1187.0,1047.6 1188.0,1048.5 1189.0,1047.8 1190.0,1048.1 1191.0,1048.7 1192.0,1048.8 1193.0,1049.7 1194.0,1048.4 1195.0,1047.9 1196.0,1047.4 1197.0,1045.8 1198.0,1046.4 1199.0,1048.2 1200.0,1048.6 1201.0,1049.4 1202.0,1048.3 1203.0,1047.7 1204.0,1048.0 1205.0,1047.3 1206.0,1046.4 1207.0,1043.5 1208.0,1042.8 1209.0,1042.1 1210.0,1041.2 1211.0,1041.0 1212.0,1040.5 1213.0,1039.7 1214.0,1040.1 1215.0,1042.3 1216.0,1043.6 1217.0,1045.8 1218.0,1047.5 1219.0,1047.3 1220.0,1047.1 1221.0,1048.4 1222.0,1049.7 1223.0,1049.9 1224.0,1050.8 1225.0,1050.3 1226.0,1049.9 1227.0,1049.5 1228.0,1050.2 1229.0,1051.2 1230.0,1050.3 1231.0,1049.8 1232.0,1050.0 1233.0,1050.7 1234.0,1049.4 1235.0,1050.1 1236.0,1052.1 1237.0,1052.7 1238.0,1051.7 1239.0,1051.5 1240.0,1050.0 1241.0,1051.6 1242.0,1051.7 1243.0,1050.0 1244.0,1049.5 1245.0,1050.9 1246.0,1052.2 1247.0,1052.5 1248.0,1052.6 1249.0,1053.3 1250.0,1052.8 1251.0,1051.2 1252.0,1051.6 1253.0,1052.4 1254.0,1053.4 1255.0,1053.0 1256.0,1053.8 1257.0,1054.2 1258.0,1055.4 1259.0,1053.9 1260.0,1053.3 1261.0,1053.4 1262.0,1054.4 1263.0,1055.8 1264.0,1053.7 1265.0,1052.8 1266.0,1053.7 1267.0,1054.0 1268.0,1053.2 1269.0,1054.2 1270.0,1054.3 1271.0,1053.2 1272.0,1052.5 1273.0,1052.0 1274.0,1052.0 1275.0,1052.2 1276.0,1054.0 1277.0,1054.2 1278.0,1052.4 1279.0,1051.3 1280.0,1049.8 1281.0,1050.6 1282.0,1051.5 1283.0,1051.3 1284.0,1050.9 1285.0,1050.8 1286.0,1049.3 1287.0,1048.2 1288.0,1047.6 1289.0,1043.4 1290.0,1041.2 1291.0,1039.5 1292.0,1036.9 1293.0,1034.1 1294.0,1031.3 1295.0,1028.0 1296.0,1025.7 1297.0,1023.6 1298.0,1021.2 1299.0,1019.3 1300.0,1017.6 1301.0,1017.6 1302.0,1019.6 1303.0,1022.3 1304.0,1024.0 1305.0,1025.8 1306.0,1026.8 1307.0,1026.1 1308.0,1023.8 1309.0,1022.8 1310.0,1020.8 1311.0,1019.0 1312.0,1016.3 1313.0,1015.5 1314.0,1016.9 1315.0,1020.1 1316.0,1023.5 1317.0,1029.4 1318.0,1035.2 1319.0,1039.7 1320.0,1041.9 1321.0,1044.9 1322.0,1047.5 1323.0,1047.1 1324.0,1047.8 1325.0,1047.3 1326.0,1047.5 1327.0,1048.4 1328.0,1048.5 1329.0,1047.1 1330.0,1047.0 1331.0,1048.9 1332.0,1048.8 1333.0,1049.2 1334.0,1049.5 1335.0,1049.2 1336.0,1048.3 1337.0,1047.7 1338.0,1046.9 1339.0,1047.6 1340.0,1047.2 1341.0,1047.3 1342.0,1047.7 1343.0,1045.5 1344.0,1042.4 1345.0,1039.7 1346.0,1040.0 1347.0,1039.7 1348.0,1037.8 1349.0,1038.5 1350.0,1039.3 1351.0,1041.1 1352.0,1042.6 1353.0,1043.7 1354.0,1045.7 1355.0,1047.3 1356.0,1050.7 1357.0,1051.7 1358.0,1051.2 1359.0,1051.4 1360.0,1051.5 1361.0,1051.7 1362.0,1051.8 1363.0,1051.5 1364.0,1051.2 1365.0,1050.1 1366.0,1050.1 1367.0,1050.7 1368.0,1051.3 1369.0,1051.6 1370.0,1052.8 1371.0,1051.4 1372.0,1050.7 1373.0,1051.4 1374.0,1052.2 1375.0,1052.5 1376.0,1050.7 1377.0,1048.0 1378.0,1046.6 1379.0,1045.0 1380.0,1041.3 1381.0,1036.8 1382.0,1031.6 1383.0,1027.5 1384.0,1023.0 1385.0,1019.0 1386.0,1016.2 1387.0,1015.4 1388.0,1018.8 1389.0,1025.2 1390.0,1030.0 1391.0,1032.5 1392.0,1038.5 1393.0,1044.1 1394.0,1046.4 1395.0,1046.9 1396.0,1048.2 1397.0,1048.4 1398.0,1048.7 1399.0,1050.0 1400.0,1049.9 1401.0,1048.4 1402.0,1047.6 1403.0,1047.2 1404.0,1048.0 1405.0,1050.9 1406.0,1051.9 1407.0,1050.9 1408.0,1050.8 1409.0,1049.8 1410.0,1050.3 1411.0,1051.4 1412.0,1051.1 1413.0,1050.3 1414.0,1048.8 1415.0,1049.0 1416.0,1050.1 1417.0,1050.6 1418.0,1051.0 1419.0,1050.9 1420.0,1051.3 1421.0,1052.0 1422.0,1052.5 1423.0,1052.3 1424.0,1051.9 1425.0,1052.5 1426.0,1053.6 1427.0,1052.9 1428.0,1052.1 1429.0,1052.5 1430.0,1054.0 1431.0,1055.1 1432.0,1055.5 1433.0,1055.0 1434.0,1055.8 1435.0,1055.0 1436.0,1054.7 1437.0,1055.0 1438.0,1056.3 1439.0,1057.1 1440.0,1056.3 1441.0,1055.4 1442.0,1055.1 1443.0,1056.4 1444.0,1056.7 1445.0,1056.8 1446.0,1056.6 1447.0,1056.6 1448.0,1057.5 1449.0,1058.5 1450.0,1058.9 1451.0,1058.2 1452.0,1058.0 1453.0,1057.6 1454.0,1057.1 1455.0,1056.6 1456.0,1058.1 1457.0,1058.8 1458.0,1058.8 1459.0,1057.3 1460.0,1057.0 1461.0,1056.6 1462.0,1057.1 1463.0,1057.4 1464.0,1057.7 1465.0,1057.4 1466.0,1057.4 1467.0,1056.9 1468.0,1057.2 1469.0,1056.6 1470.0,1056.3 1471.0,1056.8 1472.0,1056.6 1473.0,1055.0 1474.0,1054.8 1475.0,1056.2 1476.0,1055.9 1477.0,1054.0 1478.0,1053.9 1479.0,1055.2 1480.0,1056.4 1481.0,1056.8 1482.0,1057.5 1483.0,1058.2 1484.0,1058.2 1485.0,1055.4 1486.0,1056.0 1487.0,1056.9 1488.0,1055.1 1489.0,1054.9 1490.0,1056.8 1491.0,1058.3 1492.0,1057.9 1493.0,1055.5 1494.0,1055.5 1495.0,1056.7 1496.0,1057.1 1497.0,1057.8 1498.0,1058.6 1499.0,1059.6 1500.0,1058.6 1501.0,1058.4 1502.0,1058.8 1503.0,1059.2 1504.0,1058.0 1505.0,1058.5 1506.0,1057.8 1507.0,1057.8 1508.0,1060.0 1509.0,1060.6 1510.0,1061.0 1511.0,1060.4 1512.0,1060.4 1513.0,1060.3 1514.0,1060.4 1515.0,1060.1 1516.0,1060.8 1517.0,1059.7 1518.0,1060.6 1519.0,1059.7 1520.0,1059.6 1521.0,1058.8 1522.0,1058.2 1523.0,1057.0 1524.0,1052.9 1525.0,1047.9 1526.0,1043.9 1527.0,1038.7 1528.0,1033.1 1529.0,1033.8 1530.0,1035.4 1531.0,1036.9 1532.0,1042.6 1533.0,1048.1 1534.0,1050.5 1535.0,1053.2 1536.0,1055.4 1537.0,1057.2 1538.0,1058.0 1539.0,1057.2 1540.0,1057.2 1541.0,1057.9 1542.0,1057.6 1543.0,1057.2 1544.0,1057.4 1545.0,1055.6 1546.0,1055.9 1547.0,1055.4 1548.0,1054.8 1549.0,1054.6 1550.0,1054.3 1551.0,1054.6 1552.0,1052.0 1553.0,1049.8 1554.0,1049.0 1555.0,1046.4 1556.0,1042.9 1557.0,1043.4 1558.0,1043.9 1559.0,1043.0 1560.0,1043.0 1561.0,1042.4 1562.0,1041.3 1563.0,1038.0 1564.0,1035.7 1565.0,1035.4 1566.0,1035.7 1567.0,1036.3 1568.0,1036.0 1569.0,1037.6 1570.0,1041.5 1571.0,1044.9 1572.0,1048.8 1573.0,1049.6 1574.0,1049.7 1575.0,1051.6 1576.0,1052.6 1577.0,1052.9 1578.0,1053.6 1579.0,1054.2 1580.0,1054.5 1581.0,1054.7 1582.0,1055.5 1583.0,1055.7 1584.0,1055.4 1585.0,1054.7 1586.0,1052.8 1587.0,1052.6 1588.0,1053.8 1589.0,1054.6 1590.0,1053.7 1591.0,1054.4 1592.0,1055.9 1593.0,1057.2 1594.0,1055.9 1595.0,1055.1 1596.0,1056.0 1597.0,1055.4 1598.0,1054.8 1599.0,1054.8 1600.0,1053.0 1601.0,1052.5 1602.0,1051.8 1603.0,1050.4 1604.0,1047.2 1605.0,1045.2 1606.0,1044.8 1607.0,1044.4 1608.0,1044.4 1609.0,1044.6 1610.0,1046.2 1611.0,1047.9 1612.0,1048.7 1613.0,1049.6 1614.0,1051.9 1615.0,1051.7 1616.0,1053.4 1617.0,1055.1 1618.0,1055.2 1619.0,1057.0 1620.0,1058.3 1621.0,1058.0 1622.0,1057.0 1623.0,1056.7 1624.0,1055.8 1625.0,1056.3 1626.0,1056.5 1627.0,1056.2 1628.0,1056.0 1629.0,1055.1 1630.0,1053.8 1631.0,1055.0 1632.0,1055.3 1633.0,1054.8 1634.0,1051.4 1635.0,1047.3 1636.0,1043.8 1637.0,1039.6 1638.0,1035.4 1639.0,1032.4 1640.0,1031.4 1641.0,1034.5 1642.0,1037.9 1643.0,1038.5 1644.0,1041.6 1645.0,1045.3 1646.0,1046.3 1647.0,1045.6 1648.0,1043.1 1649.0,1042.7 1650.0,1042.9 1651.0,1042.2 1652.0,1040.9 1653.0,1039.9 1654.0,1040.7 1655.0,1040.4 1656.0,1041.3 1657.0,1043.5 1658.0,1046.9 1659.0,1047.6 1660.0,1047.8 1661.0,1047.3 1662.0,1049.1 1663.0,1047.5 1664.0,1043.0 1665.0,1040.4 1666.0,1039.6 1667.0,1036.4 1668.0,1035.8 1669.0,1033.6 1670.0,1033.4 1671.0,1038.6 1672.0,1042.7 1673.0,1046.2 1674.0,1048.9 1675.0,1052.3 1676.0,1055.4 1677.0,1055.4 1678.0,1055.8 1679.0,1058.4 1680.0,1058.9 1681.0,1059.9 1682.0,1059.0 1683.0,1058.6 1684.0,1058.2 1685.0,1057.5 1686.0,1059.7 1687.0,1059.3 1688.0,1059.7 1689.0,1061.0 1690.0,1060.6 1691.0,1060.8 1692.0,1060.7 1693.0,1060.8 1694.0,1060.9 1695.0,1061.0 1696.0,1060.1 1697.0,1059.8 1698.0,1059.4 1699.0,1059.7 1700.0,1057.7 1701.0,1058.9 1702.0,1059.7 1703.0,1059.5 1704.0,1059.5 1705.0,1060.8 1706.0,1061.0 1707.0,1058.1 1708.0,1056.1 1709.0,1056.3 1710.0,1056.8 1711.0,1057.3 1712.0,1057.5 1713.0,1057.7 1714.0,1056.1 1715.0,1055.3 1716.0,1054.5 1717.0,1052.8 1718.0,1052.9 1719.0,1054.0 1720.0,1050.9 1721.0,1047.7 1722.0,1046.4 1723.0,1047.9 1724.0,1047.0 1725.0,1047.0 1726.0,1049.6 1727.0,1048.9 1728.0,1046.5 1729.0,1048.0 1730.0,1050.5 1731.0,1051.1 1732.0,1051.0 1733.0,1054.0 1734.0,1054.9 1735.0,1052.5 1736.0,1051.6 1737.0,1052.8 1738.0,1055.3 1739.0,1056.2 1740.0,1055.4 1741.0,1054.5 1742.0,1055.0 1743.0,1055.1 1744.0,1053.4 1745.0,1052.7 1746.0,1054.4 1747.0,1055.7 1748.0,1054.9 1749.0,1054.0 1750.0,1053.2 1751.0,1053.0 1752.0,1050.8 1753.0,1050.5 1754.0,1049.7 1755.0,1048.5 1756.0,1047.3 1757.0,1047.2 1758.0,1045.6 1759.0,1044.3 1760.0,1044.2 1761.0,1043.4 1762.0,1042.6 1763.0,1043.0 1764.0,1044.3 1765.0,1044.1 1766.0,1045.2 1767.0,1046.8 1768.0,1048.4 1769.0,1050.1 1770.0,1052.1 1771.0,1050.9 1772.0,1052.6 1773.0,1053.9 1774.0,1054.6 1775.0,1053.7 1776.0,1055.1 1777.0,1054.4 1778.0,1055.7 1779.0,1056.2 1780.0,1055.5 1781.0,1054.7 1782.0,1054.7 1783.0,1055.3 1784.0,1054.5 1785.0,1053.1 1786.0,1053.7 1787.0,1056.3 1788.0,1057.1 1789.0,1056.7 1790.0,1056.2" fill="none" stroke="#f07450" stroke-width="9" stroke-linejoin="round" stroke-linecap="butt"/>
<rect x="194" y="48" width="1596" height="2.5" fill="#c6c6c6"/>
<rect x="183.5" y="40" width="2.5" height="1209" fill="#e2e2e2"/>
<rect x="1787.5" y="48" width="2.5" height="1173" fill="#d4d4d4"/>
<rect x="186" y="40" width="1612" height="8" fill="#000"/>
<rect x="186" y="1221.5" width="1612" height="8" fill="#000"/>
<rect x="186" y="40" width="8" height="1209" fill="#000"/>
<rect x="1790" y="40" width="8" height="1209" fill="#000"/>
<rect x="186.0" y="1224" width="8" height="25.0" fill="#000"/><rect x="319.7" y="1224" width="8" height="12.0" fill="#000"/><rect x="453.3" y="1224" width="8" height="25.0" fill="#000"/><rect x="587.0" y="1224" width="8" height="12.0" fill="#000"/><rect x="720.7" y="1224" width="8" height="25.0" fill="#000"/><rect x="854.3" y="1224" width="8" height="12.0" fill="#000"/><rect x="988.0" y="1224" width="8" height="25.0" fill="#000"/><rect x="1121.7" y="1224" width="8" height="12.0" fill="#000"/><rect x="1255.3" y="1224" width="8" height="25.0" fill="#000"/><rect x="1389.0" y="1224" width="8" height="12.0" fill="#000"/><rect x="1522.7" y="1224" width="8" height="25.0" fill="#000"/><rect x="1656.3" y="1224" width="8" height="12.0" fill="#000"/><rect x="1790.0" y="1224" width="8" height="25.0" fill="#000"/>
<text x="190.0" y="1312" text-anchor="middle" class="tk">10</text><text x="457.3" y="1312" text-anchor="middle" class="tk">20</text><text x="724.7" y="1312" text-anchor="middle" class="tk">30</text><text x="992.0" y="1312" text-anchor="middle" class="tk">40</text><text x="1259.3" y="1312" text-anchor="middle" class="tk">50</text><text x="1526.7" y="1312" text-anchor="middle" class="tk">60</text><text x="1794.0" y="1312" text-anchor="middle" class="tk">70</text>
<text x="640.5" y="1408.5" class="ax" textLength="701" lengthAdjust="spacingAndGlyphs">2 Theta (degree)</text>
<text transform="translate(102,1129.5) rotate(-90)" class="ax" textLength="990" lengthAdjust="spacingAndGlyphs">Relative intensity (a.u.)</text>
<text x="1339" y="653.5" class="lg" font-size="62" fill="#1a5a98" textLength="294" lengthAdjust="spacingAndGlyphs">Pristine Ag</text>
<text x="1632.5" y="668" class="lg" font-size="37" fill="#1a5a98">2</text>
<text x="1652.5" y="653.5" class="lg" font-size="62" fill="#1a5a98" textLength="132" lengthAdjust="spacingAndGlyphs">NCN</text>
<text x="1333" y="1128.8" class="lg" font-size="60" fill="#e8704e" textLength="298.5" lengthAdjust="spacingAndGlyphs">Treated Ag</text>
<text x="1630.5" y="1145.5" class="lg" font-size="40" fill="#e8704e">2</text>
<text x="1649.8" y="1128.8" class="lg" font-size="60" fill="#e8704e" textLength="129.5" lengthAdjust="spacingAndGlyphs">NCN</text>
</svg>
</body></html>
